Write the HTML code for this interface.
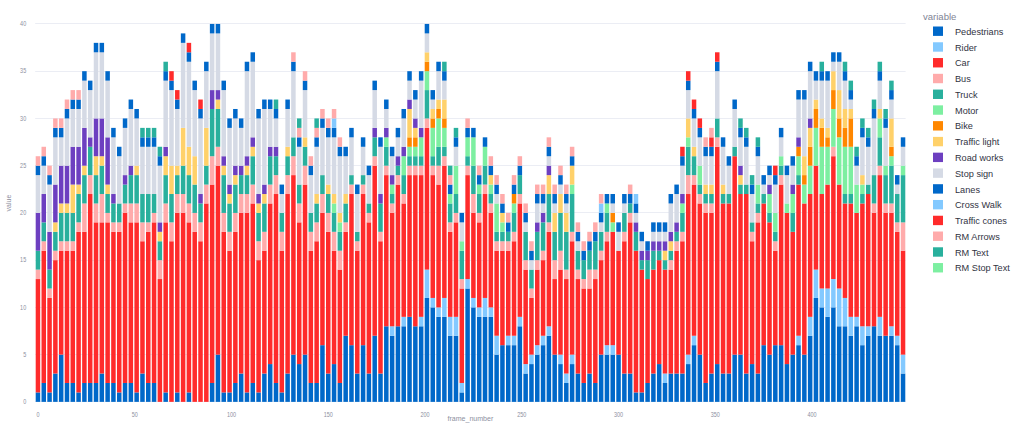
<!DOCTYPE html>
<html><head><meta charset="utf-8"><style>html,body{margin:0;padding:0;background:#fff}svg{display:block}text{font-family:"Liberation Sans",sans-serif}</style></head><body>
<svg width="1024" height="429" viewBox="0 0 1024 429">
<rect width="1024" height="429" fill="#fff"/>
<line x1="35.2" x2="905.6" y1="401.50" y2="401.50" stroke="#ebedf4" stroke-width="1"/>
<text transform="translate(26.2,404.0) scale(0.83,1)" font-size="6.6" fill="#8d90a0" text-anchor="end">0</text>
<line x1="35.2" x2="905.6" y1="354.50" y2="354.50" stroke="#ebedf4" stroke-width="1"/>
<text transform="translate(26.2,356.7) scale(0.83,1)" font-size="6.6" fill="#8d90a0" text-anchor="end">5</text>
<line x1="35.2" x2="905.6" y1="307.50" y2="307.50" stroke="#ebedf4" stroke-width="1"/>
<text transform="translate(26.2,309.5) scale(0.83,1)" font-size="6.6" fill="#8d90a0" text-anchor="end">10</text>
<line x1="35.2" x2="905.6" y1="260.50" y2="260.50" stroke="#ebedf4" stroke-width="1"/>
<text transform="translate(26.2,262.2) scale(0.83,1)" font-size="6.6" fill="#8d90a0" text-anchor="end">15</text>
<line x1="35.2" x2="905.6" y1="212.50" y2="212.50" stroke="#ebedf4" stroke-width="1"/>
<text transform="translate(26.2,215.0) scale(0.83,1)" font-size="6.6" fill="#8d90a0" text-anchor="end">20</text>
<line x1="35.2" x2="905.6" y1="165.50" y2="165.50" stroke="#ebedf4" stroke-width="1"/>
<text transform="translate(26.2,167.8) scale(0.83,1)" font-size="6.6" fill="#8d90a0" text-anchor="end">25</text>
<line x1="35.2" x2="905.6" y1="118.50" y2="118.50" stroke="#ebedf4" stroke-width="1"/>
<text transform="translate(26.2,120.5) scale(0.83,1)" font-size="6.6" fill="#8d90a0" text-anchor="end">30</text>
<line x1="35.2" x2="905.6" y1="71.50" y2="71.50" stroke="#ebedf4" stroke-width="1"/>
<text transform="translate(26.2,73.3) scale(0.83,1)" font-size="6.6" fill="#8d90a0" text-anchor="end">35</text>
<line x1="35.2" x2="905.6" y1="23.50" y2="23.50" stroke="#ebedf4" stroke-width="1"/>
<text transform="translate(26.2,26.0) scale(0.83,1)" font-size="6.6" fill="#8d90a0" text-anchor="end">40</text>
<text transform="translate(38.0,416.8) scale(0.83,1)" font-size="6.6" fill="#8d90a0" text-anchor="middle">0</text>
<text transform="translate(134.7,416.8) scale(0.83,1)" font-size="6.6" fill="#8d90a0" text-anchor="middle">50</text>
<text transform="translate(231.5,416.8) scale(0.83,1)" font-size="6.6" fill="#8d90a0" text-anchor="middle">100</text>
<text transform="translate(328.2,416.8) scale(0.83,1)" font-size="6.6" fill="#8d90a0" text-anchor="middle">150</text>
<text transform="translate(425.0,416.8) scale(0.83,1)" font-size="6.6" fill="#8d90a0" text-anchor="middle">200</text>
<text transform="translate(521.8,416.8) scale(0.83,1)" font-size="6.6" fill="#8d90a0" text-anchor="middle">250</text>
<text transform="translate(618.6,416.8) scale(0.83,1)" font-size="6.6" fill="#8d90a0" text-anchor="middle">300</text>
<text transform="translate(715.3,416.8) scale(0.83,1)" font-size="6.6" fill="#8d90a0" text-anchor="middle">350</text>
<text transform="translate(812.1,416.8) scale(0.83,1)" font-size="6.6" fill="#8d90a0" text-anchor="middle">400</text>
<g shape-rendering="auto">
<rect x="35.70" y="392.42" width="4.5" height="9.45" fill="#0068c9"/>
<rect x="35.70" y="279.05" width="4.5" height="113.38" fill="#ff2b2b"/>
<rect x="35.70" y="269.60" width="4.5" height="9.45" fill="#ffabab"/>
<rect x="35.70" y="250.70" width="4.5" height="18.90" fill="#29b09d"/>
<rect x="35.70" y="212.91" width="4.5" height="37.79" fill="#6d3fc0"/>
<rect x="35.70" y="175.12" width="4.5" height="37.79" fill="#d5dae5"/>
<rect x="35.70" y="165.67" width="4.5" height="9.45" fill="#0068c9"/>
<rect x="35.70" y="156.22" width="4.5" height="9.45" fill="#ffabab"/>
<rect x="41.51" y="382.97" width="4.5" height="18.90" fill="#0068c9"/>
<rect x="41.51" y="250.70" width="4.5" height="132.27" fill="#ff2b2b"/>
<rect x="41.51" y="241.25" width="4.5" height="9.45" fill="#ffabab"/>
<rect x="41.51" y="222.36" width="4.5" height="18.90" fill="#29b09d"/>
<rect x="41.51" y="194.01" width="4.5" height="28.34" fill="#6d3fc0"/>
<rect x="41.51" y="165.67" width="4.5" height="28.34" fill="#d5dae5"/>
<rect x="41.51" y="156.22" width="4.5" height="9.45" fill="#0068c9"/>
<rect x="41.51" y="146.77" width="4.5" height="9.45" fill="#ffabab"/>
<rect x="47.31" y="392.42" width="4.5" height="9.45" fill="#0068c9"/>
<rect x="47.31" y="297.94" width="4.5" height="94.48" fill="#ff2b2b"/>
<rect x="47.31" y="288.49" width="4.5" height="9.45" fill="#ffabab"/>
<rect x="47.31" y="269.60" width="4.5" height="18.90" fill="#29b09d"/>
<rect x="47.31" y="231.81" width="4.5" height="37.79" fill="#6d3fc0"/>
<rect x="47.31" y="184.57" width="4.5" height="47.24" fill="#d5dae5"/>
<rect x="47.31" y="175.12" width="4.5" height="9.45" fill="#0068c9"/>
<rect x="47.31" y="165.67" width="4.5" height="9.45" fill="#ffabab"/>
<rect x="53.12" y="373.53" width="4.5" height="28.34" fill="#0068c9"/>
<rect x="53.12" y="260.15" width="4.5" height="113.38" fill="#ff2b2b"/>
<rect x="53.12" y="250.70" width="4.5" height="9.45" fill="#ffabab"/>
<rect x="53.12" y="231.81" width="4.5" height="18.90" fill="#29b09d"/>
<rect x="53.12" y="222.36" width="4.5" height="9.45" fill="#ffd16a"/>
<rect x="53.12" y="184.57" width="4.5" height="37.79" fill="#6d3fc0"/>
<rect x="53.12" y="137.33" width="4.5" height="47.24" fill="#d5dae5"/>
<rect x="53.12" y="127.88" width="4.5" height="9.45" fill="#0068c9"/>
<rect x="53.12" y="118.43" width="4.5" height="9.45" fill="#ffabab"/>
<rect x="58.92" y="354.63" width="4.5" height="47.24" fill="#0068c9"/>
<rect x="58.92" y="250.70" width="4.5" height="103.93" fill="#ff2b2b"/>
<rect x="58.92" y="241.25" width="4.5" height="9.45" fill="#ffabab"/>
<rect x="58.92" y="212.91" width="4.5" height="28.34" fill="#29b09d"/>
<rect x="58.92" y="203.46" width="4.5" height="9.45" fill="#ffd16a"/>
<rect x="58.92" y="165.67" width="4.5" height="37.79" fill="#6d3fc0"/>
<rect x="58.92" y="137.33" width="4.5" height="28.34" fill="#d5dae5"/>
<rect x="58.92" y="127.88" width="4.5" height="9.45" fill="#0068c9"/>
<rect x="58.92" y="118.43" width="4.5" height="9.45" fill="#ffabab"/>
<rect x="64.73" y="382.97" width="4.5" height="18.90" fill="#0068c9"/>
<rect x="64.73" y="250.70" width="4.5" height="132.27" fill="#ff2b2b"/>
<rect x="64.73" y="241.25" width="4.5" height="9.45" fill="#ffabab"/>
<rect x="64.73" y="212.91" width="4.5" height="28.34" fill="#29b09d"/>
<rect x="64.73" y="203.46" width="4.5" height="9.45" fill="#ffd16a"/>
<rect x="64.73" y="165.67" width="4.5" height="37.79" fill="#6d3fc0"/>
<rect x="64.73" y="118.43" width="4.5" height="47.24" fill="#d5dae5"/>
<rect x="64.73" y="108.98" width="4.5" height="9.45" fill="#0068c9"/>
<rect x="64.73" y="99.53" width="4.5" height="9.45" fill="#ffabab"/>
<rect x="70.54" y="382.97" width="4.5" height="18.90" fill="#0068c9"/>
<rect x="70.54" y="250.70" width="4.5" height="132.27" fill="#ff2b2b"/>
<rect x="70.54" y="241.25" width="4.5" height="9.45" fill="#ffabab"/>
<rect x="70.54" y="212.91" width="4.5" height="28.34" fill="#29b09d"/>
<rect x="70.54" y="184.57" width="4.5" height="28.34" fill="#ffd16a"/>
<rect x="70.54" y="146.77" width="4.5" height="37.79" fill="#6d3fc0"/>
<rect x="70.54" y="108.98" width="4.5" height="37.79" fill="#d5dae5"/>
<rect x="70.54" y="99.53" width="4.5" height="9.45" fill="#0068c9"/>
<rect x="70.54" y="90.09" width="4.5" height="9.45" fill="#ffabab"/>
<rect x="76.34" y="392.42" width="4.5" height="9.45" fill="#0068c9"/>
<rect x="76.34" y="231.81" width="4.5" height="160.62" fill="#ff2b2b"/>
<rect x="76.34" y="222.36" width="4.5" height="9.45" fill="#ffabab"/>
<rect x="76.34" y="194.01" width="4.5" height="28.34" fill="#29b09d"/>
<rect x="76.34" y="184.57" width="4.5" height="9.45" fill="#ffd16a"/>
<rect x="76.34" y="146.77" width="4.5" height="37.79" fill="#6d3fc0"/>
<rect x="76.34" y="108.98" width="4.5" height="37.79" fill="#d5dae5"/>
<rect x="76.34" y="99.53" width="4.5" height="9.45" fill="#0068c9"/>
<rect x="76.34" y="90.09" width="4.5" height="9.45" fill="#ffabab"/>
<rect x="82.15" y="382.97" width="4.5" height="18.90" fill="#0068c9"/>
<rect x="82.15" y="231.81" width="4.5" height="151.17" fill="#ff2b2b"/>
<rect x="82.15" y="203.46" width="4.5" height="28.34" fill="#ffabab"/>
<rect x="82.15" y="175.12" width="4.5" height="28.34" fill="#29b09d"/>
<rect x="82.15" y="165.67" width="4.5" height="9.45" fill="#ffd16a"/>
<rect x="82.15" y="127.88" width="4.5" height="37.79" fill="#6d3fc0"/>
<rect x="82.15" y="80.64" width="4.5" height="47.24" fill="#d5dae5"/>
<rect x="82.15" y="71.19" width="4.5" height="9.45" fill="#0068c9"/>
<rect x="87.95" y="382.97" width="4.5" height="18.90" fill="#0068c9"/>
<rect x="87.95" y="194.01" width="4.5" height="188.96" fill="#ff2b2b"/>
<rect x="87.95" y="175.12" width="4.5" height="18.90" fill="#ffabab"/>
<rect x="87.95" y="146.77" width="4.5" height="28.34" fill="#29b09d"/>
<rect x="87.95" y="137.33" width="4.5" height="9.45" fill="#6d3fc0"/>
<rect x="87.95" y="90.09" width="4.5" height="47.24" fill="#d5dae5"/>
<rect x="87.95" y="80.64" width="4.5" height="9.45" fill="#0068c9"/>
<rect x="93.76" y="382.97" width="4.5" height="18.90" fill="#0068c9"/>
<rect x="93.76" y="222.36" width="4.5" height="160.62" fill="#ff2b2b"/>
<rect x="93.76" y="203.46" width="4.5" height="18.90" fill="#ffabab"/>
<rect x="93.76" y="175.12" width="4.5" height="28.34" fill="#29b09d"/>
<rect x="93.76" y="156.22" width="4.5" height="18.90" fill="#ffd16a"/>
<rect x="93.76" y="118.43" width="4.5" height="37.79" fill="#6d3fc0"/>
<rect x="93.76" y="52.29" width="4.5" height="66.14" fill="#d5dae5"/>
<rect x="93.76" y="42.85" width="4.5" height="9.45" fill="#0068c9"/>
<rect x="99.57" y="373.53" width="4.5" height="28.34" fill="#0068c9"/>
<rect x="99.57" y="222.36" width="4.5" height="151.17" fill="#ff2b2b"/>
<rect x="99.57" y="194.01" width="4.5" height="28.34" fill="#ffabab"/>
<rect x="99.57" y="165.67" width="4.5" height="28.34" fill="#29b09d"/>
<rect x="99.57" y="156.22" width="4.5" height="9.45" fill="#ffd16a"/>
<rect x="99.57" y="118.43" width="4.5" height="37.79" fill="#6d3fc0"/>
<rect x="99.57" y="52.29" width="4.5" height="66.14" fill="#d5dae5"/>
<rect x="99.57" y="42.85" width="4.5" height="9.45" fill="#0068c9"/>
<rect x="105.37" y="382.97" width="4.5" height="18.90" fill="#0068c9"/>
<rect x="105.37" y="222.36" width="4.5" height="160.62" fill="#ff2b2b"/>
<rect x="105.37" y="212.91" width="4.5" height="9.45" fill="#ffabab"/>
<rect x="105.37" y="194.01" width="4.5" height="18.90" fill="#29b09d"/>
<rect x="105.37" y="184.57" width="4.5" height="9.45" fill="#ffd16a"/>
<rect x="105.37" y="137.33" width="4.5" height="47.24" fill="#6d3fc0"/>
<rect x="105.37" y="80.64" width="4.5" height="56.69" fill="#d5dae5"/>
<rect x="105.37" y="71.19" width="4.5" height="9.45" fill="#0068c9"/>
<rect x="111.18" y="382.97" width="4.5" height="18.90" fill="#0068c9"/>
<rect x="111.18" y="231.81" width="4.5" height="151.17" fill="#ff2b2b"/>
<rect x="111.18" y="222.36" width="4.5" height="9.45" fill="#ffabab"/>
<rect x="111.18" y="203.46" width="4.5" height="18.90" fill="#29b09d"/>
<rect x="111.18" y="194.01" width="4.5" height="9.45" fill="#6d3fc0"/>
<rect x="111.18" y="137.33" width="4.5" height="56.69" fill="#d5dae5"/>
<rect x="111.18" y="127.88" width="4.5" height="9.45" fill="#0068c9"/>
<rect x="116.98" y="392.42" width="4.5" height="9.45" fill="#0068c9"/>
<rect x="116.98" y="231.81" width="4.5" height="160.62" fill="#ff2b2b"/>
<rect x="116.98" y="222.36" width="4.5" height="9.45" fill="#ffabab"/>
<rect x="116.98" y="203.46" width="4.5" height="18.90" fill="#29b09d"/>
<rect x="116.98" y="156.22" width="4.5" height="47.24" fill="#d5dae5"/>
<rect x="116.98" y="146.77" width="4.5" height="9.45" fill="#0068c9"/>
<rect x="122.79" y="382.97" width="4.5" height="18.90" fill="#0068c9"/>
<rect x="122.79" y="212.91" width="4.5" height="170.06" fill="#ff2b2b"/>
<rect x="122.79" y="203.46" width="4.5" height="9.45" fill="#ffabab"/>
<rect x="122.79" y="184.57" width="4.5" height="18.90" fill="#29b09d"/>
<rect x="122.79" y="175.12" width="4.5" height="9.45" fill="#6d3fc0"/>
<rect x="122.79" y="127.88" width="4.5" height="47.24" fill="#d5dae5"/>
<rect x="122.79" y="118.43" width="4.5" height="9.45" fill="#0068c9"/>
<rect x="128.60" y="382.97" width="4.5" height="18.90" fill="#0068c9"/>
<rect x="128.60" y="222.36" width="4.5" height="160.62" fill="#ff2b2b"/>
<rect x="128.60" y="203.46" width="4.5" height="18.90" fill="#ffabab"/>
<rect x="128.60" y="175.12" width="4.5" height="28.34" fill="#29b09d"/>
<rect x="128.60" y="165.67" width="4.5" height="9.45" fill="#6d3fc0"/>
<rect x="128.60" y="108.98" width="4.5" height="56.69" fill="#d5dae5"/>
<rect x="128.60" y="99.53" width="4.5" height="9.45" fill="#0068c9"/>
<rect x="134.40" y="392.42" width="4.5" height="9.45" fill="#0068c9"/>
<rect x="134.40" y="222.36" width="4.5" height="170.06" fill="#ff2b2b"/>
<rect x="134.40" y="203.46" width="4.5" height="18.90" fill="#ffabab"/>
<rect x="134.40" y="175.12" width="4.5" height="28.34" fill="#29b09d"/>
<rect x="134.40" y="165.67" width="4.5" height="9.45" fill="#ffd16a"/>
<rect x="134.40" y="118.43" width="4.5" height="47.24" fill="#d5dae5"/>
<rect x="134.40" y="108.98" width="4.5" height="9.45" fill="#0068c9"/>
<rect x="140.21" y="373.53" width="4.5" height="28.34" fill="#0068c9"/>
<rect x="140.21" y="241.25" width="4.5" height="132.27" fill="#ff2b2b"/>
<rect x="140.21" y="222.36" width="4.5" height="18.90" fill="#ffabab"/>
<rect x="140.21" y="194.01" width="4.5" height="28.34" fill="#29b09d"/>
<rect x="140.21" y="146.77" width="4.5" height="47.24" fill="#d5dae5"/>
<rect x="140.21" y="137.33" width="4.5" height="9.45" fill="#0068c9"/>
<rect x="140.21" y="127.88" width="4.5" height="9.45" fill="#29b09d"/>
<rect x="146.01" y="382.97" width="4.5" height="18.90" fill="#0068c9"/>
<rect x="146.01" y="231.81" width="4.5" height="151.17" fill="#ff2b2b"/>
<rect x="146.01" y="222.36" width="4.5" height="9.45" fill="#ffabab"/>
<rect x="146.01" y="194.01" width="4.5" height="28.34" fill="#29b09d"/>
<rect x="146.01" y="146.77" width="4.5" height="47.24" fill="#d5dae5"/>
<rect x="146.01" y="137.33" width="4.5" height="9.45" fill="#0068c9"/>
<rect x="146.01" y="127.88" width="4.5" height="9.45" fill="#29b09d"/>
<rect x="151.82" y="382.97" width="4.5" height="18.90" fill="#0068c9"/>
<rect x="151.82" y="222.36" width="4.5" height="160.62" fill="#ff2b2b"/>
<rect x="151.82" y="212.91" width="4.5" height="9.45" fill="#ffabab"/>
<rect x="151.82" y="194.01" width="4.5" height="18.90" fill="#29b09d"/>
<rect x="151.82" y="146.77" width="4.5" height="47.24" fill="#d5dae5"/>
<rect x="151.82" y="137.33" width="4.5" height="9.45" fill="#0068c9"/>
<rect x="151.82" y="127.88" width="4.5" height="9.45" fill="#29b09d"/>
<rect x="157.63" y="279.05" width="4.5" height="122.82" fill="#ff2b2b"/>
<rect x="157.63" y="260.15" width="4.5" height="18.90" fill="#ffabab"/>
<rect x="157.63" y="241.25" width="4.5" height="18.90" fill="#29b09d"/>
<rect x="157.63" y="231.81" width="4.5" height="9.45" fill="#ffd16a"/>
<rect x="157.63" y="222.36" width="4.5" height="9.45" fill="#6d3fc0"/>
<rect x="157.63" y="165.67" width="4.5" height="56.69" fill="#d5dae5"/>
<rect x="157.63" y="156.22" width="4.5" height="9.45" fill="#0068c9"/>
<rect x="157.63" y="146.77" width="4.5" height="9.45" fill="#29b09d"/>
<rect x="163.43" y="392.42" width="4.5" height="9.45" fill="#0068c9"/>
<rect x="163.43" y="222.36" width="4.5" height="170.06" fill="#ff2b2b"/>
<rect x="163.43" y="203.46" width="4.5" height="18.90" fill="#ffabab"/>
<rect x="163.43" y="175.12" width="4.5" height="28.34" fill="#29b09d"/>
<rect x="163.43" y="156.22" width="4.5" height="18.90" fill="#ffd16a"/>
<rect x="163.43" y="146.77" width="4.5" height="9.45" fill="#6d3fc0"/>
<rect x="163.43" y="80.64" width="4.5" height="66.14" fill="#d5dae5"/>
<rect x="163.43" y="71.19" width="4.5" height="9.45" fill="#0068c9"/>
<rect x="163.43" y="61.74" width="4.5" height="9.45" fill="#29b09d"/>
<rect x="169.24" y="241.25" width="4.5" height="160.62" fill="#ff2b2b"/>
<rect x="169.24" y="222.36" width="4.5" height="18.90" fill="#ffabab"/>
<rect x="169.24" y="194.01" width="4.5" height="28.34" fill="#29b09d"/>
<rect x="169.24" y="165.67" width="4.5" height="28.34" fill="#ffd16a"/>
<rect x="169.24" y="90.09" width="4.5" height="75.58" fill="#d5dae5"/>
<rect x="169.24" y="80.64" width="4.5" height="9.45" fill="#0068c9"/>
<rect x="169.24" y="71.19" width="4.5" height="9.45" fill="#ff2b2b"/>
<rect x="175.04" y="392.42" width="4.5" height="9.45" fill="#0068c9"/>
<rect x="175.04" y="212.91" width="4.5" height="179.51" fill="#ff2b2b"/>
<rect x="175.04" y="194.01" width="4.5" height="18.90" fill="#ffabab"/>
<rect x="175.04" y="175.12" width="4.5" height="18.90" fill="#29b09d"/>
<rect x="175.04" y="165.67" width="4.5" height="9.45" fill="#ffd16a"/>
<rect x="175.04" y="108.98" width="4.5" height="56.69" fill="#d5dae5"/>
<rect x="175.04" y="99.53" width="4.5" height="9.45" fill="#0068c9"/>
<rect x="175.04" y="90.09" width="4.5" height="9.45" fill="#ff2b2b"/>
<rect x="180.85" y="212.91" width="4.5" height="188.96" fill="#ff2b2b"/>
<rect x="180.85" y="194.01" width="4.5" height="18.90" fill="#ffabab"/>
<rect x="180.85" y="165.67" width="4.5" height="28.34" fill="#29b09d"/>
<rect x="180.85" y="127.88" width="4.5" height="37.79" fill="#ffd16a"/>
<rect x="180.85" y="42.85" width="4.5" height="85.03" fill="#d5dae5"/>
<rect x="180.85" y="33.40" width="4.5" height="9.45" fill="#0068c9"/>
<rect x="186.66" y="392.42" width="4.5" height="9.45" fill="#0068c9"/>
<rect x="186.66" y="222.36" width="4.5" height="170.06" fill="#ff2b2b"/>
<rect x="186.66" y="203.46" width="4.5" height="18.90" fill="#ffabab"/>
<rect x="186.66" y="175.12" width="4.5" height="28.34" fill="#29b09d"/>
<rect x="186.66" y="146.77" width="4.5" height="28.34" fill="#ffd16a"/>
<rect x="186.66" y="61.74" width="4.5" height="85.03" fill="#d5dae5"/>
<rect x="186.66" y="52.29" width="4.5" height="9.45" fill="#0068c9"/>
<rect x="186.66" y="42.85" width="4.5" height="9.45" fill="#ff2b2b"/>
<rect x="192.46" y="231.81" width="4.5" height="170.06" fill="#ff2b2b"/>
<rect x="192.46" y="212.91" width="4.5" height="18.90" fill="#ffabab"/>
<rect x="192.46" y="184.57" width="4.5" height="28.34" fill="#29b09d"/>
<rect x="192.46" y="156.22" width="4.5" height="28.34" fill="#ffd16a"/>
<rect x="192.46" y="90.09" width="4.5" height="66.14" fill="#d5dae5"/>
<rect x="192.46" y="80.64" width="4.5" height="9.45" fill="#0068c9"/>
<rect x="198.27" y="241.25" width="4.5" height="160.62" fill="#ff2b2b"/>
<rect x="198.27" y="222.36" width="4.5" height="18.90" fill="#ffabab"/>
<rect x="198.27" y="203.46" width="4.5" height="18.90" fill="#29b09d"/>
<rect x="198.27" y="194.01" width="4.5" height="9.45" fill="#6d3fc0"/>
<rect x="198.27" y="118.43" width="4.5" height="75.58" fill="#d5dae5"/>
<rect x="198.27" y="108.98" width="4.5" height="9.45" fill="#0068c9"/>
<rect x="198.27" y="99.53" width="4.5" height="9.45" fill="#ff2b2b"/>
<rect x="204.07" y="203.46" width="4.5" height="198.41" fill="#ff2b2b"/>
<rect x="204.07" y="184.57" width="4.5" height="18.90" fill="#ffabab"/>
<rect x="204.07" y="165.67" width="4.5" height="18.90" fill="#29b09d"/>
<rect x="204.07" y="127.88" width="4.5" height="37.79" fill="#ffd16a"/>
<rect x="204.07" y="71.19" width="4.5" height="56.69" fill="#d5dae5"/>
<rect x="204.07" y="61.74" width="4.5" height="9.45" fill="#0068c9"/>
<rect x="209.88" y="382.97" width="4.5" height="18.90" fill="#0068c9"/>
<rect x="209.88" y="184.57" width="4.5" height="198.41" fill="#ff2b2b"/>
<rect x="209.88" y="156.22" width="4.5" height="28.34" fill="#ffabab"/>
<rect x="209.88" y="108.98" width="4.5" height="47.24" fill="#29b09d"/>
<rect x="209.88" y="90.09" width="4.5" height="18.90" fill="#6d3fc0"/>
<rect x="209.88" y="33.40" width="4.5" height="56.69" fill="#d5dae5"/>
<rect x="209.88" y="23.95" width="4.5" height="9.45" fill="#0068c9"/>
<rect x="215.69" y="354.63" width="4.5" height="47.24" fill="#0068c9"/>
<rect x="215.69" y="165.67" width="4.5" height="188.96" fill="#ff2b2b"/>
<rect x="215.69" y="146.77" width="4.5" height="18.90" fill="#ffabab"/>
<rect x="215.69" y="108.98" width="4.5" height="37.79" fill="#29b09d"/>
<rect x="215.69" y="99.53" width="4.5" height="9.45" fill="#ffd16a"/>
<rect x="215.69" y="90.09" width="4.5" height="9.45" fill="#6d3fc0"/>
<rect x="215.69" y="33.40" width="4.5" height="56.69" fill="#d5dae5"/>
<rect x="215.69" y="23.95" width="4.5" height="9.45" fill="#0068c9"/>
<rect x="221.49" y="392.42" width="4.5" height="9.45" fill="#0068c9"/>
<rect x="221.49" y="231.81" width="4.5" height="160.62" fill="#ff2b2b"/>
<rect x="221.49" y="212.91" width="4.5" height="18.90" fill="#ffabab"/>
<rect x="221.49" y="175.12" width="4.5" height="37.79" fill="#29b09d"/>
<rect x="221.49" y="165.67" width="4.5" height="9.45" fill="#ffd16a"/>
<rect x="221.49" y="156.22" width="4.5" height="9.45" fill="#6d3fc0"/>
<rect x="221.49" y="90.09" width="4.5" height="66.14" fill="#d5dae5"/>
<rect x="221.49" y="80.64" width="4.5" height="9.45" fill="#0068c9"/>
<rect x="227.30" y="392.42" width="4.5" height="9.45" fill="#0068c9"/>
<rect x="227.30" y="250.70" width="4.5" height="141.72" fill="#ff2b2b"/>
<rect x="227.30" y="231.81" width="4.5" height="18.90" fill="#ffabab"/>
<rect x="227.30" y="203.46" width="4.5" height="28.34" fill="#29b09d"/>
<rect x="227.30" y="194.01" width="4.5" height="9.45" fill="#ffd16a"/>
<rect x="227.30" y="184.57" width="4.5" height="9.45" fill="#6d3fc0"/>
<rect x="227.30" y="127.88" width="4.5" height="56.69" fill="#d5dae5"/>
<rect x="227.30" y="118.43" width="4.5" height="9.45" fill="#0068c9"/>
<rect x="233.10" y="382.97" width="4.5" height="18.90" fill="#0068c9"/>
<rect x="233.10" y="231.81" width="4.5" height="151.17" fill="#ff2b2b"/>
<rect x="233.10" y="212.91" width="4.5" height="18.90" fill="#ffabab"/>
<rect x="233.10" y="184.57" width="4.5" height="28.34" fill="#29b09d"/>
<rect x="233.10" y="175.12" width="4.5" height="9.45" fill="#ffd16a"/>
<rect x="233.10" y="165.67" width="4.5" height="9.45" fill="#6d3fc0"/>
<rect x="233.10" y="118.43" width="4.5" height="47.24" fill="#d5dae5"/>
<rect x="233.10" y="108.98" width="4.5" height="9.45" fill="#0068c9"/>
<rect x="238.91" y="373.53" width="4.5" height="28.34" fill="#0068c9"/>
<rect x="238.91" y="212.91" width="4.5" height="160.62" fill="#ff2b2b"/>
<rect x="238.91" y="194.01" width="4.5" height="18.90" fill="#ffabab"/>
<rect x="238.91" y="175.12" width="4.5" height="18.90" fill="#29b09d"/>
<rect x="238.91" y="165.67" width="4.5" height="9.45" fill="#6d3fc0"/>
<rect x="238.91" y="127.88" width="4.5" height="37.79" fill="#d5dae5"/>
<rect x="238.91" y="118.43" width="4.5" height="9.45" fill="#0068c9"/>
<rect x="244.72" y="392.42" width="4.5" height="9.45" fill="#0068c9"/>
<rect x="244.72" y="212.91" width="4.5" height="179.51" fill="#ff2b2b"/>
<rect x="244.72" y="194.01" width="4.5" height="18.90" fill="#ffabab"/>
<rect x="244.72" y="175.12" width="4.5" height="18.90" fill="#29b09d"/>
<rect x="244.72" y="165.67" width="4.5" height="9.45" fill="#ffd16a"/>
<rect x="244.72" y="156.22" width="4.5" height="9.45" fill="#6d3fc0"/>
<rect x="244.72" y="71.19" width="4.5" height="85.03" fill="#d5dae5"/>
<rect x="244.72" y="61.74" width="4.5" height="9.45" fill="#0068c9"/>
<rect x="250.52" y="382.97" width="4.5" height="18.90" fill="#0068c9"/>
<rect x="250.52" y="203.46" width="4.5" height="179.51" fill="#ff2b2b"/>
<rect x="250.52" y="184.57" width="4.5" height="18.90" fill="#ffabab"/>
<rect x="250.52" y="156.22" width="4.5" height="28.34" fill="#29b09d"/>
<rect x="250.52" y="146.77" width="4.5" height="9.45" fill="#ffd16a"/>
<rect x="250.52" y="137.33" width="4.5" height="9.45" fill="#6d3fc0"/>
<rect x="250.52" y="61.74" width="4.5" height="75.58" fill="#d5dae5"/>
<rect x="250.52" y="52.29" width="4.5" height="9.45" fill="#0068c9"/>
<rect x="256.33" y="392.42" width="4.5" height="9.45" fill="#0068c9"/>
<rect x="256.33" y="260.15" width="4.5" height="132.27" fill="#ff2b2b"/>
<rect x="256.33" y="241.25" width="4.5" height="18.90" fill="#ffabab"/>
<rect x="256.33" y="212.91" width="4.5" height="28.34" fill="#29b09d"/>
<rect x="256.33" y="203.46" width="4.5" height="9.45" fill="#ffd16a"/>
<rect x="256.33" y="194.01" width="4.5" height="9.45" fill="#6d3fc0"/>
<rect x="256.33" y="118.43" width="4.5" height="75.58" fill="#d5dae5"/>
<rect x="256.33" y="108.98" width="4.5" height="9.45" fill="#0068c9"/>
<rect x="262.13" y="373.53" width="4.5" height="28.34" fill="#0068c9"/>
<rect x="262.13" y="250.70" width="4.5" height="122.82" fill="#ff2b2b"/>
<rect x="262.13" y="231.81" width="4.5" height="18.90" fill="#ffabab"/>
<rect x="262.13" y="203.46" width="4.5" height="28.34" fill="#29b09d"/>
<rect x="262.13" y="194.01" width="4.5" height="9.45" fill="#ffd16a"/>
<rect x="262.13" y="184.57" width="4.5" height="9.45" fill="#6d3fc0"/>
<rect x="262.13" y="108.98" width="4.5" height="75.58" fill="#d5dae5"/>
<rect x="262.13" y="99.53" width="4.5" height="9.45" fill="#0068c9"/>
<rect x="267.94" y="364.08" width="4.5" height="37.79" fill="#0068c9"/>
<rect x="267.94" y="203.46" width="4.5" height="160.62" fill="#ff2b2b"/>
<rect x="267.94" y="184.57" width="4.5" height="18.90" fill="#ffabab"/>
<rect x="267.94" y="156.22" width="4.5" height="28.34" fill="#29b09d"/>
<rect x="267.94" y="146.77" width="4.5" height="9.45" fill="#6d3fc0"/>
<rect x="267.94" y="108.98" width="4.5" height="37.79" fill="#d5dae5"/>
<rect x="267.94" y="99.53" width="4.5" height="9.45" fill="#0068c9"/>
<rect x="273.75" y="382.97" width="4.5" height="18.90" fill="#0068c9"/>
<rect x="273.75" y="194.01" width="4.5" height="188.96" fill="#ff2b2b"/>
<rect x="273.75" y="175.12" width="4.5" height="18.90" fill="#ffabab"/>
<rect x="273.75" y="156.22" width="4.5" height="18.90" fill="#29b09d"/>
<rect x="273.75" y="146.77" width="4.5" height="9.45" fill="#6d3fc0"/>
<rect x="273.75" y="118.43" width="4.5" height="28.34" fill="#d5dae5"/>
<rect x="273.75" y="108.98" width="4.5" height="9.45" fill="#0068c9"/>
<rect x="273.75" y="99.53" width="4.5" height="9.45" fill="#29b09d"/>
<rect x="279.55" y="392.42" width="4.5" height="9.45" fill="#0068c9"/>
<rect x="279.55" y="250.70" width="4.5" height="141.72" fill="#ff2b2b"/>
<rect x="279.55" y="231.81" width="4.5" height="18.90" fill="#ffabab"/>
<rect x="279.55" y="212.91" width="4.5" height="18.90" fill="#29b09d"/>
<rect x="279.55" y="194.01" width="4.5" height="18.90" fill="#d5dae5"/>
<rect x="279.55" y="184.57" width="4.5" height="9.45" fill="#0068c9"/>
<rect x="285.36" y="373.53" width="4.5" height="28.34" fill="#0068c9"/>
<rect x="285.36" y="194.01" width="4.5" height="179.51" fill="#ff2b2b"/>
<rect x="285.36" y="175.12" width="4.5" height="18.90" fill="#ffabab"/>
<rect x="285.36" y="156.22" width="4.5" height="18.90" fill="#29b09d"/>
<rect x="285.36" y="146.77" width="4.5" height="9.45" fill="#ffd16a"/>
<rect x="285.36" y="108.98" width="4.5" height="37.79" fill="#d5dae5"/>
<rect x="285.36" y="99.53" width="4.5" height="9.45" fill="#0068c9"/>
<rect x="291.16" y="354.63" width="4.5" height="47.24" fill="#0068c9"/>
<rect x="291.16" y="175.12" width="4.5" height="179.51" fill="#ff2b2b"/>
<rect x="291.16" y="156.22" width="4.5" height="18.90" fill="#ffabab"/>
<rect x="291.16" y="137.33" width="4.5" height="18.90" fill="#29b09d"/>
<rect x="291.16" y="71.19" width="4.5" height="66.14" fill="#d5dae5"/>
<rect x="291.16" y="61.74" width="4.5" height="9.45" fill="#0068c9"/>
<rect x="291.16" y="52.29" width="4.5" height="9.45" fill="#ffabab"/>
<rect x="296.97" y="364.08" width="4.5" height="37.79" fill="#0068c9"/>
<rect x="296.97" y="222.36" width="4.5" height="141.72" fill="#ff2b2b"/>
<rect x="296.97" y="203.46" width="4.5" height="18.90" fill="#ffabab"/>
<rect x="296.97" y="184.57" width="4.5" height="18.90" fill="#29b09d"/>
<rect x="296.97" y="146.77" width="4.5" height="37.79" fill="#d5dae5"/>
<rect x="296.97" y="137.33" width="4.5" height="9.45" fill="#0068c9"/>
<rect x="296.97" y="127.88" width="4.5" height="9.45" fill="#ffabab"/>
<rect x="296.97" y="118.43" width="4.5" height="9.45" fill="#29b09d"/>
<rect x="302.78" y="354.63" width="4.5" height="47.24" fill="#0068c9"/>
<rect x="302.78" y="184.57" width="4.5" height="170.06" fill="#ff2b2b"/>
<rect x="302.78" y="165.67" width="4.5" height="18.90" fill="#ffabab"/>
<rect x="302.78" y="146.77" width="4.5" height="18.90" fill="#29b09d"/>
<rect x="302.78" y="137.33" width="4.5" height="9.45" fill="#ffd16a"/>
<rect x="302.78" y="90.09" width="4.5" height="47.24" fill="#d5dae5"/>
<rect x="302.78" y="80.64" width="4.5" height="9.45" fill="#0068c9"/>
<rect x="302.78" y="71.19" width="4.5" height="9.45" fill="#ffabab"/>
<rect x="308.58" y="382.97" width="4.5" height="18.90" fill="#0068c9"/>
<rect x="308.58" y="250.70" width="4.5" height="132.27" fill="#ff2b2b"/>
<rect x="308.58" y="231.81" width="4.5" height="18.90" fill="#ffabab"/>
<rect x="308.58" y="212.91" width="4.5" height="18.90" fill="#29b09d"/>
<rect x="308.58" y="175.12" width="4.5" height="37.79" fill="#d5dae5"/>
<rect x="308.58" y="165.67" width="4.5" height="9.45" fill="#0068c9"/>
<rect x="308.58" y="156.22" width="4.5" height="9.45" fill="#ffabab"/>
<rect x="314.39" y="382.97" width="4.5" height="18.90" fill="#0068c9"/>
<rect x="314.39" y="241.25" width="4.5" height="141.72" fill="#ff2b2b"/>
<rect x="314.39" y="222.36" width="4.5" height="18.90" fill="#ffabab"/>
<rect x="314.39" y="203.46" width="4.5" height="18.90" fill="#29b09d"/>
<rect x="314.39" y="194.01" width="4.5" height="9.45" fill="#ffd16a"/>
<rect x="314.39" y="146.77" width="4.5" height="47.24" fill="#d5dae5"/>
<rect x="314.39" y="137.33" width="4.5" height="9.45" fill="#0068c9"/>
<rect x="314.39" y="127.88" width="4.5" height="9.45" fill="#ffabab"/>
<rect x="314.39" y="118.43" width="4.5" height="9.45" fill="#29b09d"/>
<rect x="320.19" y="345.18" width="4.5" height="56.69" fill="#0068c9"/>
<rect x="320.19" y="212.91" width="4.5" height="132.27" fill="#ff2b2b"/>
<rect x="320.19" y="194.01" width="4.5" height="18.90" fill="#ffabab"/>
<rect x="320.19" y="175.12" width="4.5" height="18.90" fill="#29b09d"/>
<rect x="320.19" y="127.88" width="4.5" height="47.24" fill="#d5dae5"/>
<rect x="320.19" y="118.43" width="4.5" height="9.45" fill="#0068c9"/>
<rect x="320.19" y="108.98" width="4.5" height="9.45" fill="#ffabab"/>
<rect x="326.00" y="373.53" width="4.5" height="28.34" fill="#0068c9"/>
<rect x="326.00" y="231.81" width="4.5" height="141.72" fill="#ff2b2b"/>
<rect x="326.00" y="212.91" width="4.5" height="18.90" fill="#ffabab"/>
<rect x="326.00" y="194.01" width="4.5" height="18.90" fill="#29b09d"/>
<rect x="326.00" y="184.57" width="4.5" height="9.45" fill="#ffd16a"/>
<rect x="326.00" y="137.33" width="4.5" height="47.24" fill="#d5dae5"/>
<rect x="326.00" y="127.88" width="4.5" height="9.45" fill="#0068c9"/>
<rect x="326.00" y="118.43" width="4.5" height="9.45" fill="#ffabab"/>
<rect x="331.81" y="364.08" width="4.5" height="37.79" fill="#0068c9"/>
<rect x="331.81" y="250.70" width="4.5" height="113.38" fill="#ff2b2b"/>
<rect x="331.81" y="231.81" width="4.5" height="18.90" fill="#ffabab"/>
<rect x="331.81" y="212.91" width="4.5" height="18.90" fill="#29b09d"/>
<rect x="331.81" y="203.46" width="4.5" height="9.45" fill="#7defa1"/>
<rect x="331.81" y="194.01" width="4.5" height="9.45" fill="#ffd16a"/>
<rect x="331.81" y="137.33" width="4.5" height="56.69" fill="#d5dae5"/>
<rect x="331.81" y="127.88" width="4.5" height="9.45" fill="#0068c9"/>
<rect x="331.81" y="118.43" width="4.5" height="9.45" fill="#83c9ff"/>
<rect x="331.81" y="108.98" width="4.5" height="9.45" fill="#ffabab"/>
<rect x="337.61" y="382.97" width="4.5" height="18.90" fill="#0068c9"/>
<rect x="337.61" y="269.60" width="4.5" height="113.38" fill="#ff2b2b"/>
<rect x="337.61" y="250.70" width="4.5" height="18.90" fill="#ffabab"/>
<rect x="337.61" y="231.81" width="4.5" height="18.90" fill="#29b09d"/>
<rect x="337.61" y="222.36" width="4.5" height="9.45" fill="#7defa1"/>
<rect x="337.61" y="212.91" width="4.5" height="9.45" fill="#ffd16a"/>
<rect x="337.61" y="156.22" width="4.5" height="56.69" fill="#d5dae5"/>
<rect x="337.61" y="146.77" width="4.5" height="9.45" fill="#0068c9"/>
<rect x="337.61" y="137.33" width="4.5" height="9.45" fill="#ffabab"/>
<rect x="343.42" y="335.73" width="4.5" height="66.14" fill="#0068c9"/>
<rect x="343.42" y="231.81" width="4.5" height="103.93" fill="#ff2b2b"/>
<rect x="343.42" y="222.36" width="4.5" height="9.45" fill="#ffabab"/>
<rect x="343.42" y="203.46" width="4.5" height="18.90" fill="#29b09d"/>
<rect x="343.42" y="194.01" width="4.5" height="9.45" fill="#ffd16a"/>
<rect x="343.42" y="156.22" width="4.5" height="37.79" fill="#d5dae5"/>
<rect x="343.42" y="146.77" width="4.5" height="9.45" fill="#0068c9"/>
<rect x="349.22" y="345.18" width="4.5" height="56.69" fill="#0068c9"/>
<rect x="349.22" y="194.01" width="4.5" height="151.17" fill="#ff2b2b"/>
<rect x="349.22" y="184.57" width="4.5" height="9.45" fill="#ffabab"/>
<rect x="349.22" y="175.12" width="4.5" height="9.45" fill="#29b09d"/>
<rect x="349.22" y="137.33" width="4.5" height="37.79" fill="#d5dae5"/>
<rect x="349.22" y="127.88" width="4.5" height="9.45" fill="#0068c9"/>
<rect x="355.03" y="373.53" width="4.5" height="28.34" fill="#0068c9"/>
<rect x="355.03" y="250.70" width="4.5" height="122.82" fill="#ff2b2b"/>
<rect x="355.03" y="241.25" width="4.5" height="9.45" fill="#ffabab"/>
<rect x="355.03" y="231.81" width="4.5" height="9.45" fill="#29b09d"/>
<rect x="355.03" y="194.01" width="4.5" height="37.79" fill="#d5dae5"/>
<rect x="355.03" y="184.57" width="4.5" height="9.45" fill="#0068c9"/>
<rect x="360.84" y="345.18" width="4.5" height="56.69" fill="#0068c9"/>
<rect x="360.84" y="194.01" width="4.5" height="151.17" fill="#ff2b2b"/>
<rect x="360.84" y="184.57" width="4.5" height="9.45" fill="#ffabab"/>
<rect x="360.84" y="175.12" width="4.5" height="9.45" fill="#29b09d"/>
<rect x="360.84" y="146.77" width="4.5" height="28.34" fill="#d5dae5"/>
<rect x="360.84" y="137.33" width="4.5" height="9.45" fill="#0068c9"/>
<rect x="366.64" y="373.53" width="4.5" height="28.34" fill="#0068c9"/>
<rect x="366.64" y="222.36" width="4.5" height="151.17" fill="#ff2b2b"/>
<rect x="366.64" y="212.91" width="4.5" height="9.45" fill="#ffabab"/>
<rect x="366.64" y="203.46" width="4.5" height="9.45" fill="#29b09d"/>
<rect x="366.64" y="175.12" width="4.5" height="28.34" fill="#d5dae5"/>
<rect x="366.64" y="165.67" width="4.5" height="9.45" fill="#0068c9"/>
<rect x="372.45" y="335.73" width="4.5" height="66.14" fill="#0068c9"/>
<rect x="372.45" y="165.67" width="4.5" height="170.06" fill="#ff2b2b"/>
<rect x="372.45" y="156.22" width="4.5" height="9.45" fill="#ffabab"/>
<rect x="372.45" y="137.33" width="4.5" height="18.90" fill="#29b09d"/>
<rect x="372.45" y="127.88" width="4.5" height="9.45" fill="#6d3fc0"/>
<rect x="372.45" y="90.09" width="4.5" height="37.79" fill="#d5dae5"/>
<rect x="372.45" y="80.64" width="4.5" height="9.45" fill="#0068c9"/>
<rect x="378.25" y="373.53" width="4.5" height="28.34" fill="#0068c9"/>
<rect x="378.25" y="241.25" width="4.5" height="132.27" fill="#ff2b2b"/>
<rect x="378.25" y="231.81" width="4.5" height="9.45" fill="#ffabab"/>
<rect x="378.25" y="203.46" width="4.5" height="28.34" fill="#29b09d"/>
<rect x="378.25" y="194.01" width="4.5" height="9.45" fill="#6d3fc0"/>
<rect x="378.25" y="146.77" width="4.5" height="47.24" fill="#d5dae5"/>
<rect x="378.25" y="137.33" width="4.5" height="9.45" fill="#0068c9"/>
<rect x="384.06" y="326.29" width="4.5" height="75.58" fill="#0068c9"/>
<rect x="384.06" y="175.12" width="4.5" height="151.17" fill="#ff2b2b"/>
<rect x="384.06" y="165.67" width="4.5" height="9.45" fill="#ffabab"/>
<rect x="384.06" y="146.77" width="4.5" height="18.90" fill="#29b09d"/>
<rect x="384.06" y="137.33" width="4.5" height="9.45" fill="#7defa1"/>
<rect x="384.06" y="127.88" width="4.5" height="9.45" fill="#6d3fc0"/>
<rect x="384.06" y="108.98" width="4.5" height="18.90" fill="#d5dae5"/>
<rect x="384.06" y="99.53" width="4.5" height="9.45" fill="#0068c9"/>
<rect x="389.87" y="335.73" width="4.5" height="66.14" fill="#0068c9"/>
<rect x="389.87" y="326.29" width="4.5" height="9.45" fill="#83c9ff"/>
<rect x="389.87" y="212.91" width="4.5" height="113.38" fill="#ff2b2b"/>
<rect x="389.87" y="203.46" width="4.5" height="9.45" fill="#ffabab"/>
<rect x="389.87" y="194.01" width="4.5" height="9.45" fill="#29b09d"/>
<rect x="389.87" y="184.57" width="4.5" height="9.45" fill="#7defa1"/>
<rect x="389.87" y="175.12" width="4.5" height="9.45" fill="#6d3fc0"/>
<rect x="389.87" y="156.22" width="4.5" height="18.90" fill="#d5dae5"/>
<rect x="389.87" y="146.77" width="4.5" height="9.45" fill="#0068c9"/>
<rect x="395.67" y="326.29" width="4.5" height="75.58" fill="#0068c9"/>
<rect x="395.67" y="184.57" width="4.5" height="141.72" fill="#ff2b2b"/>
<rect x="395.67" y="175.12" width="4.5" height="9.45" fill="#ffabab"/>
<rect x="395.67" y="165.67" width="4.5" height="9.45" fill="#29b09d"/>
<rect x="395.67" y="156.22" width="4.5" height="9.45" fill="#6d3fc0"/>
<rect x="395.67" y="137.33" width="4.5" height="18.90" fill="#d5dae5"/>
<rect x="395.67" y="127.88" width="4.5" height="9.45" fill="#0068c9"/>
<rect x="401.48" y="326.29" width="4.5" height="75.58" fill="#0068c9"/>
<rect x="401.48" y="316.84" width="4.5" height="9.45" fill="#83c9ff"/>
<rect x="401.48" y="203.46" width="4.5" height="113.38" fill="#ff2b2b"/>
<rect x="401.48" y="194.01" width="4.5" height="9.45" fill="#ffabab"/>
<rect x="401.48" y="175.12" width="4.5" height="18.90" fill="#29b09d"/>
<rect x="401.48" y="156.22" width="4.5" height="18.90" fill="#7defa1"/>
<rect x="401.48" y="146.77" width="4.5" height="9.45" fill="#6d3fc0"/>
<rect x="401.48" y="118.43" width="4.5" height="28.34" fill="#d5dae5"/>
<rect x="401.48" y="108.98" width="4.5" height="9.45" fill="#0068c9"/>
<rect x="407.28" y="316.84" width="4.5" height="85.03" fill="#0068c9"/>
<rect x="407.28" y="175.12" width="4.5" height="141.72" fill="#ff2b2b"/>
<rect x="407.28" y="165.67" width="4.5" height="9.45" fill="#ffabab"/>
<rect x="407.28" y="156.22" width="4.5" height="9.45" fill="#29b09d"/>
<rect x="407.28" y="146.77" width="4.5" height="9.45" fill="#7defa1"/>
<rect x="407.28" y="137.33" width="4.5" height="9.45" fill="#ff8700"/>
<rect x="407.28" y="108.98" width="4.5" height="28.34" fill="#ffd16a"/>
<rect x="407.28" y="99.53" width="4.5" height="9.45" fill="#6d3fc0"/>
<rect x="407.28" y="80.64" width="4.5" height="18.90" fill="#d5dae5"/>
<rect x="407.28" y="71.19" width="4.5" height="9.45" fill="#0068c9"/>
<rect x="413.09" y="326.29" width="4.5" height="75.58" fill="#0068c9"/>
<rect x="413.09" y="175.12" width="4.5" height="151.17" fill="#ff2b2b"/>
<rect x="413.09" y="165.67" width="4.5" height="9.45" fill="#ffabab"/>
<rect x="413.09" y="156.22" width="4.5" height="9.45" fill="#29b09d"/>
<rect x="413.09" y="146.77" width="4.5" height="9.45" fill="#7defa1"/>
<rect x="413.09" y="137.33" width="4.5" height="9.45" fill="#ff8700"/>
<rect x="413.09" y="127.88" width="4.5" height="9.45" fill="#ffd16a"/>
<rect x="413.09" y="118.43" width="4.5" height="9.45" fill="#6d3fc0"/>
<rect x="413.09" y="99.53" width="4.5" height="18.90" fill="#d5dae5"/>
<rect x="413.09" y="90.09" width="4.5" height="9.45" fill="#0068c9"/>
<rect x="418.90" y="326.29" width="4.5" height="75.58" fill="#0068c9"/>
<rect x="418.90" y="316.84" width="4.5" height="9.45" fill="#83c9ff"/>
<rect x="418.90" y="175.12" width="4.5" height="141.72" fill="#ff2b2b"/>
<rect x="418.90" y="165.67" width="4.5" height="9.45" fill="#ffabab"/>
<rect x="418.90" y="156.22" width="4.5" height="9.45" fill="#29b09d"/>
<rect x="418.90" y="137.33" width="4.5" height="18.90" fill="#7defa1"/>
<rect x="418.90" y="127.88" width="4.5" height="9.45" fill="#6d3fc0"/>
<rect x="418.90" y="80.64" width="4.5" height="47.24" fill="#d5dae5"/>
<rect x="418.90" y="71.19" width="4.5" height="9.45" fill="#0068c9"/>
<rect x="424.70" y="297.94" width="4.5" height="103.93" fill="#0068c9"/>
<rect x="424.70" y="269.60" width="4.5" height="28.34" fill="#83c9ff"/>
<rect x="424.70" y="127.88" width="4.5" height="141.72" fill="#ff2b2b"/>
<rect x="424.70" y="118.43" width="4.5" height="9.45" fill="#ffabab"/>
<rect x="424.70" y="90.09" width="4.5" height="28.34" fill="#29b09d"/>
<rect x="424.70" y="71.19" width="4.5" height="18.90" fill="#7defa1"/>
<rect x="424.70" y="61.74" width="4.5" height="9.45" fill="#ff8700"/>
<rect x="424.70" y="52.29" width="4.5" height="9.45" fill="#ffd16a"/>
<rect x="424.70" y="33.40" width="4.5" height="18.90" fill="#d5dae5"/>
<rect x="424.70" y="23.95" width="4.5" height="9.45" fill="#0068c9"/>
<rect x="430.51" y="307.39" width="4.5" height="94.48" fill="#0068c9"/>
<rect x="430.51" y="297.94" width="4.5" height="9.45" fill="#83c9ff"/>
<rect x="430.51" y="175.12" width="4.5" height="122.82" fill="#ff2b2b"/>
<rect x="430.51" y="165.67" width="4.5" height="9.45" fill="#ffabab"/>
<rect x="430.51" y="156.22" width="4.5" height="9.45" fill="#29b09d"/>
<rect x="430.51" y="127.88" width="4.5" height="28.34" fill="#7defa1"/>
<rect x="430.51" y="118.43" width="4.5" height="9.45" fill="#ff8700"/>
<rect x="430.51" y="108.98" width="4.5" height="9.45" fill="#ffd16a"/>
<rect x="430.51" y="99.53" width="4.5" height="9.45" fill="#d5dae5"/>
<rect x="430.51" y="90.09" width="4.5" height="9.45" fill="#0068c9"/>
<rect x="436.31" y="316.84" width="4.5" height="85.03" fill="#0068c9"/>
<rect x="436.31" y="307.39" width="4.5" height="9.45" fill="#83c9ff"/>
<rect x="436.31" y="184.57" width="4.5" height="122.82" fill="#ff2b2b"/>
<rect x="436.31" y="165.67" width="4.5" height="18.90" fill="#ffabab"/>
<rect x="436.31" y="146.77" width="4.5" height="18.90" fill="#29b09d"/>
<rect x="436.31" y="118.43" width="4.5" height="28.34" fill="#7defa1"/>
<rect x="436.31" y="108.98" width="4.5" height="9.45" fill="#ff8700"/>
<rect x="436.31" y="99.53" width="4.5" height="9.45" fill="#ffd16a"/>
<rect x="436.31" y="71.19" width="4.5" height="28.34" fill="#d5dae5"/>
<rect x="436.31" y="61.74" width="4.5" height="9.45" fill="#0068c9"/>
<rect x="442.12" y="316.84" width="4.5" height="85.03" fill="#0068c9"/>
<rect x="442.12" y="297.94" width="4.5" height="18.90" fill="#83c9ff"/>
<rect x="442.12" y="165.67" width="4.5" height="132.27" fill="#ff2b2b"/>
<rect x="442.12" y="156.22" width="4.5" height="9.45" fill="#ffabab"/>
<rect x="442.12" y="146.77" width="4.5" height="9.45" fill="#29b09d"/>
<rect x="442.12" y="127.88" width="4.5" height="18.90" fill="#7defa1"/>
<rect x="442.12" y="118.43" width="4.5" height="9.45" fill="#ff8700"/>
<rect x="442.12" y="99.53" width="4.5" height="18.90" fill="#ffd16a"/>
<rect x="442.12" y="80.64" width="4.5" height="18.90" fill="#d5dae5"/>
<rect x="442.12" y="71.19" width="4.5" height="9.45" fill="#0068c9"/>
<rect x="442.12" y="61.74" width="4.5" height="9.45" fill="#29b09d"/>
<rect x="447.93" y="335.73" width="4.5" height="66.14" fill="#0068c9"/>
<rect x="447.93" y="316.84" width="4.5" height="18.90" fill="#83c9ff"/>
<rect x="447.93" y="231.81" width="4.5" height="85.03" fill="#ff2b2b"/>
<rect x="447.93" y="222.36" width="4.5" height="9.45" fill="#ffabab"/>
<rect x="447.93" y="203.46" width="4.5" height="18.90" fill="#29b09d"/>
<rect x="447.93" y="194.01" width="4.5" height="9.45" fill="#7defa1"/>
<rect x="447.93" y="184.57" width="4.5" height="9.45" fill="#0068c9"/>
<rect x="447.93" y="175.12" width="4.5" height="9.45" fill="#ffabab"/>
<rect x="447.93" y="165.67" width="4.5" height="9.45" fill="#29b09d"/>
<rect x="453.73" y="335.73" width="4.5" height="66.14" fill="#0068c9"/>
<rect x="453.73" y="316.84" width="4.5" height="18.90" fill="#83c9ff"/>
<rect x="453.73" y="222.36" width="4.5" height="94.48" fill="#ff2b2b"/>
<rect x="453.73" y="212.91" width="4.5" height="9.45" fill="#ffabab"/>
<rect x="453.73" y="194.01" width="4.5" height="18.90" fill="#29b09d"/>
<rect x="453.73" y="165.67" width="4.5" height="28.34" fill="#7defa1"/>
<rect x="453.73" y="146.77" width="4.5" height="18.90" fill="#d5dae5"/>
<rect x="453.73" y="137.33" width="4.5" height="9.45" fill="#0068c9"/>
<rect x="453.73" y="127.88" width="4.5" height="9.45" fill="#29b09d"/>
<rect x="459.54" y="392.42" width="4.5" height="9.45" fill="#0068c9"/>
<rect x="459.54" y="382.97" width="4.5" height="9.45" fill="#83c9ff"/>
<rect x="459.54" y="288.49" width="4.5" height="94.48" fill="#ff2b2b"/>
<rect x="459.54" y="279.05" width="4.5" height="9.45" fill="#ffabab"/>
<rect x="459.54" y="250.70" width="4.5" height="28.34" fill="#29b09d"/>
<rect x="459.54" y="241.25" width="4.5" height="9.45" fill="#7defa1"/>
<rect x="459.54" y="222.36" width="4.5" height="18.90" fill="#d5dae5"/>
<rect x="459.54" y="212.91" width="4.5" height="9.45" fill="#0068c9"/>
<rect x="465.34" y="288.49" width="4.5" height="113.38" fill="#0068c9"/>
<rect x="465.34" y="279.05" width="4.5" height="9.45" fill="#83c9ff"/>
<rect x="465.34" y="175.12" width="4.5" height="103.93" fill="#ff2b2b"/>
<rect x="465.34" y="165.67" width="4.5" height="9.45" fill="#ffabab"/>
<rect x="465.34" y="156.22" width="4.5" height="9.45" fill="#29b09d"/>
<rect x="465.34" y="137.33" width="4.5" height="18.90" fill="#7defa1"/>
<rect x="465.34" y="127.88" width="4.5" height="9.45" fill="#0068c9"/>
<rect x="465.34" y="118.43" width="4.5" height="9.45" fill="#ffabab"/>
<rect x="471.15" y="307.39" width="4.5" height="94.48" fill="#0068c9"/>
<rect x="471.15" y="297.94" width="4.5" height="9.45" fill="#83c9ff"/>
<rect x="471.15" y="212.91" width="4.5" height="85.03" fill="#ff2b2b"/>
<rect x="471.15" y="194.01" width="4.5" height="18.90" fill="#ffabab"/>
<rect x="471.15" y="165.67" width="4.5" height="28.34" fill="#29b09d"/>
<rect x="471.15" y="137.33" width="4.5" height="28.34" fill="#7defa1"/>
<rect x="471.15" y="127.88" width="4.5" height="9.45" fill="#0068c9"/>
<rect x="476.96" y="316.84" width="4.5" height="85.03" fill="#0068c9"/>
<rect x="476.96" y="307.39" width="4.5" height="9.45" fill="#83c9ff"/>
<rect x="476.96" y="222.36" width="4.5" height="85.03" fill="#ff2b2b"/>
<rect x="476.96" y="212.91" width="4.5" height="9.45" fill="#ffabab"/>
<rect x="476.96" y="194.01" width="4.5" height="18.90" fill="#29b09d"/>
<rect x="476.96" y="184.57" width="4.5" height="9.45" fill="#7defa1"/>
<rect x="476.96" y="175.12" width="4.5" height="9.45" fill="#0068c9"/>
<rect x="476.96" y="165.67" width="4.5" height="9.45" fill="#ffabab"/>
<rect x="482.76" y="316.84" width="4.5" height="85.03" fill="#0068c9"/>
<rect x="482.76" y="297.94" width="4.5" height="18.90" fill="#83c9ff"/>
<rect x="482.76" y="194.01" width="4.5" height="103.93" fill="#ff2b2b"/>
<rect x="482.76" y="184.57" width="4.5" height="9.45" fill="#ffabab"/>
<rect x="482.76" y="165.67" width="4.5" height="18.90" fill="#29b09d"/>
<rect x="482.76" y="146.77" width="4.5" height="18.90" fill="#7defa1"/>
<rect x="482.76" y="137.33" width="4.5" height="9.45" fill="#0068c9"/>
<rect x="488.57" y="316.84" width="4.5" height="85.03" fill="#0068c9"/>
<rect x="488.57" y="307.39" width="4.5" height="9.45" fill="#83c9ff"/>
<rect x="488.57" y="212.91" width="4.5" height="94.48" fill="#ff2b2b"/>
<rect x="488.57" y="203.46" width="4.5" height="9.45" fill="#ffabab"/>
<rect x="488.57" y="194.01" width="4.5" height="9.45" fill="#29b09d"/>
<rect x="488.57" y="184.57" width="4.5" height="9.45" fill="#7defa1"/>
<rect x="488.57" y="175.12" width="4.5" height="9.45" fill="#ffd16a"/>
<rect x="488.57" y="165.67" width="4.5" height="9.45" fill="#0068c9"/>
<rect x="488.57" y="156.22" width="4.5" height="9.45" fill="#ffabab"/>
<rect x="494.37" y="354.63" width="4.5" height="47.24" fill="#0068c9"/>
<rect x="494.37" y="335.73" width="4.5" height="18.90" fill="#83c9ff"/>
<rect x="494.37" y="250.70" width="4.5" height="85.03" fill="#ff2b2b"/>
<rect x="494.37" y="241.25" width="4.5" height="9.45" fill="#ffabab"/>
<rect x="494.37" y="231.81" width="4.5" height="9.45" fill="#29b09d"/>
<rect x="494.37" y="203.46" width="4.5" height="28.34" fill="#7defa1"/>
<rect x="494.37" y="194.01" width="4.5" height="9.45" fill="#d5dae5"/>
<rect x="494.37" y="184.57" width="4.5" height="9.45" fill="#0068c9"/>
<rect x="494.37" y="175.12" width="4.5" height="9.45" fill="#ffabab"/>
<rect x="500.18" y="345.18" width="4.5" height="56.69" fill="#0068c9"/>
<rect x="500.18" y="250.70" width="4.5" height="94.48" fill="#ff2b2b"/>
<rect x="500.18" y="241.25" width="4.5" height="9.45" fill="#ffabab"/>
<rect x="500.18" y="231.81" width="4.5" height="9.45" fill="#29b09d"/>
<rect x="500.18" y="222.36" width="4.5" height="9.45" fill="#7defa1"/>
<rect x="500.18" y="212.91" width="4.5" height="9.45" fill="#ffd16a"/>
<rect x="500.18" y="203.46" width="4.5" height="9.45" fill="#0068c9"/>
<rect x="500.18" y="194.01" width="4.5" height="9.45" fill="#ffabab"/>
<rect x="505.99" y="345.18" width="4.5" height="56.69" fill="#0068c9"/>
<rect x="505.99" y="335.73" width="4.5" height="9.45" fill="#83c9ff"/>
<rect x="505.99" y="250.70" width="4.5" height="85.03" fill="#ff2b2b"/>
<rect x="505.99" y="241.25" width="4.5" height="9.45" fill="#ffabab"/>
<rect x="505.99" y="231.81" width="4.5" height="9.45" fill="#29b09d"/>
<rect x="505.99" y="222.36" width="4.5" height="9.45" fill="#0068c9"/>
<rect x="505.99" y="212.91" width="4.5" height="9.45" fill="#ffabab"/>
<rect x="511.79" y="345.18" width="4.5" height="56.69" fill="#0068c9"/>
<rect x="511.79" y="335.73" width="4.5" height="9.45" fill="#83c9ff"/>
<rect x="511.79" y="241.25" width="4.5" height="94.48" fill="#ff2b2b"/>
<rect x="511.79" y="231.81" width="4.5" height="9.45" fill="#ffabab"/>
<rect x="511.79" y="212.91" width="4.5" height="18.90" fill="#29b09d"/>
<rect x="511.79" y="203.46" width="4.5" height="9.45" fill="#7defa1"/>
<rect x="511.79" y="194.01" width="4.5" height="9.45" fill="#ff8700"/>
<rect x="511.79" y="184.57" width="4.5" height="9.45" fill="#0068c9"/>
<rect x="511.79" y="175.12" width="4.5" height="9.45" fill="#ffabab"/>
<rect x="517.60" y="326.29" width="4.5" height="75.58" fill="#0068c9"/>
<rect x="517.60" y="316.84" width="4.5" height="9.45" fill="#83c9ff"/>
<rect x="517.60" y="203.46" width="4.5" height="113.38" fill="#ff2b2b"/>
<rect x="517.60" y="194.01" width="4.5" height="9.45" fill="#ffabab"/>
<rect x="517.60" y="175.12" width="4.5" height="18.90" fill="#29b09d"/>
<rect x="517.60" y="165.67" width="4.5" height="9.45" fill="#0068c9"/>
<rect x="517.60" y="156.22" width="4.5" height="9.45" fill="#ffabab"/>
<rect x="523.40" y="373.53" width="4.5" height="28.34" fill="#0068c9"/>
<rect x="523.40" y="364.08" width="4.5" height="9.45" fill="#83c9ff"/>
<rect x="523.40" y="269.60" width="4.5" height="94.48" fill="#ff2b2b"/>
<rect x="523.40" y="260.15" width="4.5" height="9.45" fill="#ffabab"/>
<rect x="523.40" y="231.81" width="4.5" height="28.34" fill="#29b09d"/>
<rect x="523.40" y="222.36" width="4.5" height="9.45" fill="#d5dae5"/>
<rect x="523.40" y="212.91" width="4.5" height="9.45" fill="#0068c9"/>
<rect x="523.40" y="203.46" width="4.5" height="9.45" fill="#ffabab"/>
<rect x="529.21" y="364.08" width="4.5" height="37.79" fill="#0068c9"/>
<rect x="529.21" y="354.63" width="4.5" height="9.45" fill="#83c9ff"/>
<rect x="529.21" y="297.94" width="4.5" height="56.69" fill="#ff2b2b"/>
<rect x="529.21" y="288.49" width="4.5" height="9.45" fill="#ffabab"/>
<rect x="529.21" y="269.60" width="4.5" height="18.90" fill="#29b09d"/>
<rect x="529.21" y="260.15" width="4.5" height="9.45" fill="#d5dae5"/>
<rect x="529.21" y="250.70" width="4.5" height="9.45" fill="#0068c9"/>
<rect x="529.21" y="241.25" width="4.5" height="9.45" fill="#ffabab"/>
<rect x="535.02" y="354.63" width="4.5" height="47.24" fill="#0068c9"/>
<rect x="535.02" y="345.18" width="4.5" height="9.45" fill="#83c9ff"/>
<rect x="535.02" y="269.60" width="4.5" height="75.58" fill="#ff2b2b"/>
<rect x="535.02" y="260.15" width="4.5" height="9.45" fill="#ffabab"/>
<rect x="535.02" y="231.81" width="4.5" height="28.34" fill="#29b09d"/>
<rect x="535.02" y="222.36" width="4.5" height="9.45" fill="#6d3fc0"/>
<rect x="535.02" y="203.46" width="4.5" height="18.90" fill="#d5dae5"/>
<rect x="535.02" y="194.01" width="4.5" height="9.45" fill="#0068c9"/>
<rect x="535.02" y="184.57" width="4.5" height="9.45" fill="#ffabab"/>
<rect x="540.82" y="345.18" width="4.5" height="56.69" fill="#0068c9"/>
<rect x="540.82" y="335.73" width="4.5" height="9.45" fill="#83c9ff"/>
<rect x="540.82" y="260.15" width="4.5" height="75.58" fill="#ff2b2b"/>
<rect x="540.82" y="250.70" width="4.5" height="9.45" fill="#ffabab"/>
<rect x="540.82" y="222.36" width="4.5" height="28.34" fill="#29b09d"/>
<rect x="540.82" y="212.91" width="4.5" height="9.45" fill="#6d3fc0"/>
<rect x="540.82" y="203.46" width="4.5" height="9.45" fill="#d5dae5"/>
<rect x="540.82" y="194.01" width="4.5" height="9.45" fill="#0068c9"/>
<rect x="540.82" y="184.57" width="4.5" height="9.45" fill="#ffabab"/>
<rect x="546.63" y="335.73" width="4.5" height="66.14" fill="#0068c9"/>
<rect x="546.63" y="326.29" width="4.5" height="9.45" fill="#83c9ff"/>
<rect x="546.63" y="231.81" width="4.5" height="94.48" fill="#ff2b2b"/>
<rect x="546.63" y="222.36" width="4.5" height="9.45" fill="#ffabab"/>
<rect x="546.63" y="194.01" width="4.5" height="28.34" fill="#29b09d"/>
<rect x="546.63" y="175.12" width="4.5" height="18.90" fill="#ffd16a"/>
<rect x="546.63" y="165.67" width="4.5" height="9.45" fill="#6d3fc0"/>
<rect x="546.63" y="156.22" width="4.5" height="9.45" fill="#d5dae5"/>
<rect x="546.63" y="146.77" width="4.5" height="9.45" fill="#0068c9"/>
<rect x="546.63" y="137.33" width="4.5" height="9.45" fill="#ffabab"/>
<rect x="552.43" y="354.63" width="4.5" height="47.24" fill="#0068c9"/>
<rect x="552.43" y="279.05" width="4.5" height="75.58" fill="#ff2b2b"/>
<rect x="552.43" y="260.15" width="4.5" height="18.90" fill="#ffabab"/>
<rect x="552.43" y="231.81" width="4.5" height="28.34" fill="#29b09d"/>
<rect x="552.43" y="212.91" width="4.5" height="18.90" fill="#ffd16a"/>
<rect x="552.43" y="203.46" width="4.5" height="9.45" fill="#d5dae5"/>
<rect x="552.43" y="194.01" width="4.5" height="9.45" fill="#0068c9"/>
<rect x="552.43" y="184.57" width="4.5" height="9.45" fill="#ffabab"/>
<rect x="558.24" y="364.08" width="4.5" height="37.79" fill="#0068c9"/>
<rect x="558.24" y="354.63" width="4.5" height="9.45" fill="#83c9ff"/>
<rect x="558.24" y="269.60" width="4.5" height="85.03" fill="#ff2b2b"/>
<rect x="558.24" y="250.70" width="4.5" height="18.90" fill="#ffabab"/>
<rect x="558.24" y="212.91" width="4.5" height="37.79" fill="#29b09d"/>
<rect x="558.24" y="194.01" width="4.5" height="18.90" fill="#ffd16a"/>
<rect x="558.24" y="184.57" width="4.5" height="9.45" fill="#d5dae5"/>
<rect x="558.24" y="175.12" width="4.5" height="9.45" fill="#0068c9"/>
<rect x="558.24" y="165.67" width="4.5" height="9.45" fill="#ffabab"/>
<rect x="564.05" y="382.97" width="4.5" height="18.90" fill="#0068c9"/>
<rect x="564.05" y="373.53" width="4.5" height="9.45" fill="#83c9ff"/>
<rect x="564.05" y="279.05" width="4.5" height="94.48" fill="#ff2b2b"/>
<rect x="564.05" y="269.60" width="4.5" height="9.45" fill="#ffabab"/>
<rect x="564.05" y="231.81" width="4.5" height="37.79" fill="#29b09d"/>
<rect x="564.05" y="212.91" width="4.5" height="18.90" fill="#ffd16a"/>
<rect x="564.05" y="203.46" width="4.5" height="9.45" fill="#d5dae5"/>
<rect x="564.05" y="194.01" width="4.5" height="9.45" fill="#0068c9"/>
<rect x="564.05" y="184.57" width="4.5" height="9.45" fill="#ffabab"/>
<rect x="569.85" y="364.08" width="4.5" height="37.79" fill="#0068c9"/>
<rect x="569.85" y="354.63" width="4.5" height="9.45" fill="#83c9ff"/>
<rect x="569.85" y="241.25" width="4.5" height="113.38" fill="#ff2b2b"/>
<rect x="569.85" y="231.81" width="4.5" height="9.45" fill="#ffabab"/>
<rect x="569.85" y="194.01" width="4.5" height="37.79" fill="#29b09d"/>
<rect x="569.85" y="184.57" width="4.5" height="9.45" fill="#7defa1"/>
<rect x="569.85" y="165.67" width="4.5" height="18.90" fill="#ffd16a"/>
<rect x="569.85" y="156.22" width="4.5" height="9.45" fill="#0068c9"/>
<rect x="569.85" y="146.77" width="4.5" height="9.45" fill="#ffabab"/>
<rect x="575.66" y="373.53" width="4.5" height="28.34" fill="#0068c9"/>
<rect x="575.66" y="279.05" width="4.5" height="94.48" fill="#ff2b2b"/>
<rect x="575.66" y="269.60" width="4.5" height="9.45" fill="#ffabab"/>
<rect x="575.66" y="250.70" width="4.5" height="18.90" fill="#29b09d"/>
<rect x="575.66" y="241.25" width="4.5" height="9.45" fill="#d5dae5"/>
<rect x="575.66" y="231.81" width="4.5" height="9.45" fill="#0068c9"/>
<rect x="575.66" y="222.36" width="4.5" height="9.45" fill="#ffabab"/>
<rect x="581.46" y="382.97" width="4.5" height="18.90" fill="#0068c9"/>
<rect x="581.46" y="288.49" width="4.5" height="94.48" fill="#ff2b2b"/>
<rect x="581.46" y="279.05" width="4.5" height="9.45" fill="#ffabab"/>
<rect x="581.46" y="260.15" width="4.5" height="18.90" fill="#29b09d"/>
<rect x="581.46" y="250.70" width="4.5" height="9.45" fill="#0068c9"/>
<rect x="581.46" y="241.25" width="4.5" height="9.45" fill="#ffabab"/>
<rect x="587.27" y="373.53" width="4.5" height="28.34" fill="#0068c9"/>
<rect x="587.27" y="288.49" width="4.5" height="85.03" fill="#ff2b2b"/>
<rect x="587.27" y="269.60" width="4.5" height="18.90" fill="#ffabab"/>
<rect x="587.27" y="250.70" width="4.5" height="18.90" fill="#29b09d"/>
<rect x="587.27" y="241.25" width="4.5" height="9.45" fill="#0068c9"/>
<rect x="587.27" y="231.81" width="4.5" height="9.45" fill="#ffabab"/>
<rect x="593.08" y="382.97" width="4.5" height="18.90" fill="#0068c9"/>
<rect x="593.08" y="279.05" width="4.5" height="103.93" fill="#ff2b2b"/>
<rect x="593.08" y="269.60" width="4.5" height="9.45" fill="#ffabab"/>
<rect x="593.08" y="241.25" width="4.5" height="28.34" fill="#29b09d"/>
<rect x="593.08" y="231.81" width="4.5" height="9.45" fill="#0068c9"/>
<rect x="593.08" y="222.36" width="4.5" height="9.45" fill="#ffabab"/>
<rect x="598.88" y="354.63" width="4.5" height="47.24" fill="#0068c9"/>
<rect x="598.88" y="260.15" width="4.5" height="94.48" fill="#ff2b2b"/>
<rect x="598.88" y="250.70" width="4.5" height="9.45" fill="#ffabab"/>
<rect x="598.88" y="231.81" width="4.5" height="18.90" fill="#29b09d"/>
<rect x="598.88" y="222.36" width="4.5" height="9.45" fill="#d5dae5"/>
<rect x="598.88" y="212.91" width="4.5" height="9.45" fill="#0068c9"/>
<rect x="598.88" y="203.46" width="4.5" height="9.45" fill="#83c9ff"/>
<rect x="598.88" y="194.01" width="4.5" height="9.45" fill="#ffabab"/>
<rect x="604.69" y="354.63" width="4.5" height="47.24" fill="#0068c9"/>
<rect x="604.69" y="345.18" width="4.5" height="9.45" fill="#83c9ff"/>
<rect x="604.69" y="241.25" width="4.5" height="103.93" fill="#ff2b2b"/>
<rect x="604.69" y="231.81" width="4.5" height="9.45" fill="#ffabab"/>
<rect x="604.69" y="212.91" width="4.5" height="18.90" fill="#29b09d"/>
<rect x="604.69" y="203.46" width="4.5" height="9.45" fill="#7defa1"/>
<rect x="604.69" y="194.01" width="4.5" height="9.45" fill="#0068c9"/>
<rect x="610.49" y="354.63" width="4.5" height="47.24" fill="#0068c9"/>
<rect x="610.49" y="345.18" width="4.5" height="9.45" fill="#83c9ff"/>
<rect x="610.49" y="231.81" width="4.5" height="113.38" fill="#ff2b2b"/>
<rect x="610.49" y="222.36" width="4.5" height="9.45" fill="#7defa1"/>
<rect x="610.49" y="212.91" width="4.5" height="9.45" fill="#ff8700"/>
<rect x="610.49" y="203.46" width="4.5" height="9.45" fill="#d5dae5"/>
<rect x="610.49" y="194.01" width="4.5" height="9.45" fill="#0068c9"/>
<rect x="616.30" y="354.63" width="4.5" height="47.24" fill="#0068c9"/>
<rect x="616.30" y="250.70" width="4.5" height="103.93" fill="#ff2b2b"/>
<rect x="616.30" y="231.81" width="4.5" height="18.90" fill="#d5dae5"/>
<rect x="616.30" y="222.36" width="4.5" height="9.45" fill="#0068c9"/>
<rect x="622.11" y="373.53" width="4.5" height="28.34" fill="#0068c9"/>
<rect x="622.11" y="241.25" width="4.5" height="132.27" fill="#ff2b2b"/>
<rect x="622.11" y="231.81" width="4.5" height="9.45" fill="#ffabab"/>
<rect x="622.11" y="212.91" width="4.5" height="18.90" fill="#29b09d"/>
<rect x="622.11" y="203.46" width="4.5" height="9.45" fill="#d5dae5"/>
<rect x="622.11" y="194.01" width="4.5" height="9.45" fill="#0068c9"/>
<rect x="627.91" y="373.53" width="4.5" height="28.34" fill="#0068c9"/>
<rect x="627.91" y="222.36" width="4.5" height="151.17" fill="#ff2b2b"/>
<rect x="627.91" y="212.91" width="4.5" height="9.45" fill="#ffabab"/>
<rect x="627.91" y="203.46" width="4.5" height="9.45" fill="#29b09d"/>
<rect x="627.91" y="194.01" width="4.5" height="9.45" fill="#0068c9"/>
<rect x="627.91" y="184.57" width="4.5" height="9.45" fill="#ffabab"/>
<rect x="633.72" y="392.42" width="4.5" height="9.45" fill="#0068c9"/>
<rect x="633.72" y="250.70" width="4.5" height="141.72" fill="#ff2b2b"/>
<rect x="633.72" y="231.81" width="4.5" height="18.90" fill="#29b09d"/>
<rect x="633.72" y="222.36" width="4.5" height="9.45" fill="#6d3fc0"/>
<rect x="633.72" y="212.91" width="4.5" height="9.45" fill="#d5dae5"/>
<rect x="633.72" y="203.46" width="4.5" height="9.45" fill="#0068c9"/>
<rect x="633.72" y="194.01" width="4.5" height="9.45" fill="#83c9ff"/>
<rect x="639.52" y="392.42" width="4.5" height="9.45" fill="#0068c9"/>
<rect x="639.52" y="269.60" width="4.5" height="122.82" fill="#ff2b2b"/>
<rect x="639.52" y="260.15" width="4.5" height="9.45" fill="#29b09d"/>
<rect x="639.52" y="250.70" width="4.5" height="9.45" fill="#6d3fc0"/>
<rect x="639.52" y="241.25" width="4.5" height="9.45" fill="#d5dae5"/>
<rect x="639.52" y="231.81" width="4.5" height="9.45" fill="#0068c9"/>
<rect x="645.33" y="382.97" width="4.5" height="18.90" fill="#0068c9"/>
<rect x="645.33" y="279.05" width="4.5" height="103.93" fill="#ff2b2b"/>
<rect x="645.33" y="260.15" width="4.5" height="18.90" fill="#29b09d"/>
<rect x="645.33" y="250.70" width="4.5" height="9.45" fill="#6d3fc0"/>
<rect x="645.33" y="241.25" width="4.5" height="9.45" fill="#0068c9"/>
<rect x="651.14" y="373.53" width="4.5" height="28.34" fill="#0068c9"/>
<rect x="651.14" y="269.60" width="4.5" height="103.93" fill="#ff2b2b"/>
<rect x="651.14" y="250.70" width="4.5" height="18.90" fill="#29b09d"/>
<rect x="651.14" y="241.25" width="4.5" height="9.45" fill="#6d3fc0"/>
<rect x="651.14" y="231.81" width="4.5" height="9.45" fill="#d5dae5"/>
<rect x="651.14" y="222.36" width="4.5" height="9.45" fill="#0068c9"/>
<rect x="656.94" y="364.08" width="4.5" height="37.79" fill="#0068c9"/>
<rect x="656.94" y="260.15" width="4.5" height="103.93" fill="#ff2b2b"/>
<rect x="656.94" y="250.70" width="4.5" height="9.45" fill="#29b09d"/>
<rect x="656.94" y="241.25" width="4.5" height="9.45" fill="#6d3fc0"/>
<rect x="656.94" y="231.81" width="4.5" height="9.45" fill="#d5dae5"/>
<rect x="656.94" y="222.36" width="4.5" height="9.45" fill="#0068c9"/>
<rect x="662.75" y="382.97" width="4.5" height="18.90" fill="#0068c9"/>
<rect x="662.75" y="373.53" width="4.5" height="9.45" fill="#83c9ff"/>
<rect x="662.75" y="269.60" width="4.5" height="103.93" fill="#ff2b2b"/>
<rect x="662.75" y="260.15" width="4.5" height="9.45" fill="#29b09d"/>
<rect x="662.75" y="250.70" width="4.5" height="9.45" fill="#ffd16a"/>
<rect x="662.75" y="241.25" width="4.5" height="9.45" fill="#6d3fc0"/>
<rect x="662.75" y="231.81" width="4.5" height="9.45" fill="#d5dae5"/>
<rect x="662.75" y="222.36" width="4.5" height="9.45" fill="#0068c9"/>
<rect x="668.55" y="373.53" width="4.5" height="28.34" fill="#0068c9"/>
<rect x="668.55" y="269.60" width="4.5" height="103.93" fill="#ff2b2b"/>
<rect x="668.55" y="260.15" width="4.5" height="9.45" fill="#ffabab"/>
<rect x="668.55" y="250.70" width="4.5" height="9.45" fill="#29b09d"/>
<rect x="668.55" y="241.25" width="4.5" height="9.45" fill="#ffd16a"/>
<rect x="668.55" y="231.81" width="4.5" height="9.45" fill="#6d3fc0"/>
<rect x="668.55" y="203.46" width="4.5" height="28.34" fill="#d5dae5"/>
<rect x="668.55" y="194.01" width="4.5" height="9.45" fill="#0068c9"/>
<rect x="674.36" y="373.53" width="4.5" height="28.34" fill="#0068c9"/>
<rect x="674.36" y="250.70" width="4.5" height="122.82" fill="#ff2b2b"/>
<rect x="674.36" y="241.25" width="4.5" height="9.45" fill="#ffabab"/>
<rect x="674.36" y="231.81" width="4.5" height="9.45" fill="#29b09d"/>
<rect x="674.36" y="222.36" width="4.5" height="9.45" fill="#6d3fc0"/>
<rect x="674.36" y="194.01" width="4.5" height="28.34" fill="#d5dae5"/>
<rect x="674.36" y="184.57" width="4.5" height="9.45" fill="#0068c9"/>
<rect x="680.17" y="373.53" width="4.5" height="28.34" fill="#0068c9"/>
<rect x="680.17" y="241.25" width="4.5" height="132.27" fill="#ff2b2b"/>
<rect x="680.17" y="231.81" width="4.5" height="9.45" fill="#ffabab"/>
<rect x="680.17" y="212.91" width="4.5" height="18.90" fill="#29b09d"/>
<rect x="680.17" y="203.46" width="4.5" height="9.45" fill="#7defa1"/>
<rect x="680.17" y="194.01" width="4.5" height="9.45" fill="#6d3fc0"/>
<rect x="680.17" y="165.67" width="4.5" height="28.34" fill="#d5dae5"/>
<rect x="680.17" y="156.22" width="4.5" height="9.45" fill="#0068c9"/>
<rect x="680.17" y="146.77" width="4.5" height="9.45" fill="#ff2b2b"/>
<rect x="685.97" y="364.08" width="4.5" height="37.79" fill="#0068c9"/>
<rect x="685.97" y="354.63" width="4.5" height="9.45" fill="#83c9ff"/>
<rect x="685.97" y="194.01" width="4.5" height="160.62" fill="#ff2b2b"/>
<rect x="685.97" y="175.12" width="4.5" height="18.90" fill="#ffabab"/>
<rect x="685.97" y="146.77" width="4.5" height="28.34" fill="#29b09d"/>
<rect x="685.97" y="137.33" width="4.5" height="9.45" fill="#7defa1"/>
<rect x="685.97" y="118.43" width="4.5" height="18.90" fill="#ffd16a"/>
<rect x="685.97" y="90.09" width="4.5" height="28.34" fill="#d5dae5"/>
<rect x="685.97" y="80.64" width="4.5" height="9.45" fill="#0068c9"/>
<rect x="685.97" y="71.19" width="4.5" height="9.45" fill="#ff2b2b"/>
<rect x="691.78" y="345.18" width="4.5" height="56.69" fill="#0068c9"/>
<rect x="691.78" y="335.73" width="4.5" height="9.45" fill="#83c9ff"/>
<rect x="691.78" y="184.57" width="4.5" height="151.17" fill="#ff2b2b"/>
<rect x="691.78" y="175.12" width="4.5" height="9.45" fill="#ffabab"/>
<rect x="691.78" y="156.22" width="4.5" height="18.90" fill="#29b09d"/>
<rect x="691.78" y="146.77" width="4.5" height="9.45" fill="#ffd16a"/>
<rect x="691.78" y="118.43" width="4.5" height="28.34" fill="#d5dae5"/>
<rect x="691.78" y="108.98" width="4.5" height="9.45" fill="#0068c9"/>
<rect x="691.78" y="99.53" width="4.5" height="9.45" fill="#ff2b2b"/>
<rect x="697.58" y="354.63" width="4.5" height="47.24" fill="#0068c9"/>
<rect x="697.58" y="203.46" width="4.5" height="151.17" fill="#ff2b2b"/>
<rect x="697.58" y="194.01" width="4.5" height="9.45" fill="#ffabab"/>
<rect x="697.58" y="184.57" width="4.5" height="9.45" fill="#29b09d"/>
<rect x="697.58" y="165.67" width="4.5" height="18.90" fill="#7defa1"/>
<rect x="697.58" y="137.33" width="4.5" height="28.34" fill="#d5dae5"/>
<rect x="697.58" y="127.88" width="4.5" height="9.45" fill="#0068c9"/>
<rect x="697.58" y="118.43" width="4.5" height="9.45" fill="#ff2b2b"/>
<rect x="703.39" y="382.97" width="4.5" height="18.90" fill="#0068c9"/>
<rect x="703.39" y="212.91" width="4.5" height="170.06" fill="#ff2b2b"/>
<rect x="703.39" y="203.46" width="4.5" height="9.45" fill="#ffabab"/>
<rect x="703.39" y="194.01" width="4.5" height="9.45" fill="#29b09d"/>
<rect x="703.39" y="184.57" width="4.5" height="9.45" fill="#ffd16a"/>
<rect x="703.39" y="156.22" width="4.5" height="28.34" fill="#d5dae5"/>
<rect x="703.39" y="146.77" width="4.5" height="9.45" fill="#0068c9"/>
<rect x="703.39" y="137.33" width="4.5" height="9.45" fill="#ffabab"/>
<rect x="709.20" y="373.53" width="4.5" height="28.34" fill="#0068c9"/>
<rect x="709.20" y="212.91" width="4.5" height="160.62" fill="#ff2b2b"/>
<rect x="709.20" y="203.46" width="4.5" height="9.45" fill="#ffabab"/>
<rect x="709.20" y="194.01" width="4.5" height="9.45" fill="#29b09d"/>
<rect x="709.20" y="184.57" width="4.5" height="9.45" fill="#ffd16a"/>
<rect x="709.20" y="156.22" width="4.5" height="28.34" fill="#d5dae5"/>
<rect x="709.20" y="146.77" width="4.5" height="9.45" fill="#0068c9"/>
<rect x="709.20" y="137.33" width="4.5" height="9.45" fill="#ff2b2b"/>
<rect x="709.20" y="127.88" width="4.5" height="9.45" fill="#ffabab"/>
<rect x="715.00" y="364.08" width="4.5" height="37.79" fill="#0068c9"/>
<rect x="715.00" y="146.77" width="4.5" height="217.30" fill="#ff2b2b"/>
<rect x="715.00" y="137.33" width="4.5" height="9.45" fill="#ffabab"/>
<rect x="715.00" y="118.43" width="4.5" height="18.90" fill="#29b09d"/>
<rect x="715.00" y="71.19" width="4.5" height="47.24" fill="#d5dae5"/>
<rect x="715.00" y="61.74" width="4.5" height="9.45" fill="#0068c9"/>
<rect x="715.00" y="52.29" width="4.5" height="9.45" fill="#ff2b2b"/>
<rect x="720.81" y="373.53" width="4.5" height="28.34" fill="#0068c9"/>
<rect x="720.81" y="203.46" width="4.5" height="170.06" fill="#ff2b2b"/>
<rect x="720.81" y="194.01" width="4.5" height="9.45" fill="#29b09d"/>
<rect x="720.81" y="184.57" width="4.5" height="9.45" fill="#ffd16a"/>
<rect x="720.81" y="146.77" width="4.5" height="37.79" fill="#d5dae5"/>
<rect x="720.81" y="137.33" width="4.5" height="9.45" fill="#0068c9"/>
<rect x="726.61" y="373.53" width="4.5" height="28.34" fill="#0068c9"/>
<rect x="726.61" y="203.46" width="4.5" height="170.06" fill="#ff2b2b"/>
<rect x="726.61" y="194.01" width="4.5" height="9.45" fill="#29b09d"/>
<rect x="726.61" y="165.67" width="4.5" height="28.34" fill="#d5dae5"/>
<rect x="726.61" y="156.22" width="4.5" height="9.45" fill="#0068c9"/>
<rect x="732.42" y="354.63" width="4.5" height="47.24" fill="#0068c9"/>
<rect x="732.42" y="156.22" width="4.5" height="198.41" fill="#ff2b2b"/>
<rect x="732.42" y="146.77" width="4.5" height="9.45" fill="#29b09d"/>
<rect x="732.42" y="108.98" width="4.5" height="37.79" fill="#d5dae5"/>
<rect x="732.42" y="99.53" width="4.5" height="9.45" fill="#0068c9"/>
<rect x="738.23" y="354.63" width="4.5" height="47.24" fill="#0068c9"/>
<rect x="738.23" y="194.01" width="4.5" height="160.62" fill="#ff2b2b"/>
<rect x="738.23" y="184.57" width="4.5" height="9.45" fill="#29b09d"/>
<rect x="738.23" y="175.12" width="4.5" height="9.45" fill="#ffd16a"/>
<rect x="738.23" y="165.67" width="4.5" height="9.45" fill="#6d3fc0"/>
<rect x="738.23" y="137.33" width="4.5" height="28.34" fill="#d5dae5"/>
<rect x="738.23" y="127.88" width="4.5" height="9.45" fill="#0068c9"/>
<rect x="738.23" y="118.43" width="4.5" height="9.45" fill="#29b09d"/>
<rect x="744.03" y="373.53" width="4.5" height="28.34" fill="#0068c9"/>
<rect x="744.03" y="194.01" width="4.5" height="179.51" fill="#ff2b2b"/>
<rect x="744.03" y="184.57" width="4.5" height="9.45" fill="#29b09d"/>
<rect x="744.03" y="146.77" width="4.5" height="37.79" fill="#d5dae5"/>
<rect x="744.03" y="137.33" width="4.5" height="9.45" fill="#0068c9"/>
<rect x="744.03" y="127.88" width="4.5" height="9.45" fill="#29b09d"/>
<rect x="749.84" y="364.08" width="4.5" height="37.79" fill="#0068c9"/>
<rect x="749.84" y="241.25" width="4.5" height="122.82" fill="#ff2b2b"/>
<rect x="749.84" y="231.81" width="4.5" height="9.45" fill="#ffabab"/>
<rect x="749.84" y="222.36" width="4.5" height="9.45" fill="#29b09d"/>
<rect x="749.84" y="194.01" width="4.5" height="28.34" fill="#d5dae5"/>
<rect x="749.84" y="184.57" width="4.5" height="9.45" fill="#0068c9"/>
<rect x="749.84" y="175.12" width="4.5" height="9.45" fill="#29b09d"/>
<rect x="755.64" y="373.53" width="4.5" height="28.34" fill="#0068c9"/>
<rect x="755.64" y="222.36" width="4.5" height="151.17" fill="#ff2b2b"/>
<rect x="755.64" y="212.91" width="4.5" height="9.45" fill="#ffabab"/>
<rect x="755.64" y="203.46" width="4.5" height="9.45" fill="#29b09d"/>
<rect x="755.64" y="184.57" width="4.5" height="18.90" fill="#7defa1"/>
<rect x="755.64" y="156.22" width="4.5" height="28.34" fill="#d5dae5"/>
<rect x="755.64" y="146.77" width="4.5" height="9.45" fill="#0068c9"/>
<rect x="755.64" y="137.33" width="4.5" height="9.45" fill="#29b09d"/>
<rect x="761.45" y="345.18" width="4.5" height="56.69" fill="#0068c9"/>
<rect x="761.45" y="203.46" width="4.5" height="141.72" fill="#ff2b2b"/>
<rect x="761.45" y="194.01" width="4.5" height="9.45" fill="#29b09d"/>
<rect x="761.45" y="184.57" width="4.5" height="9.45" fill="#d5dae5"/>
<rect x="761.45" y="175.12" width="4.5" height="9.45" fill="#0068c9"/>
<rect x="767.26" y="354.63" width="4.5" height="47.24" fill="#0068c9"/>
<rect x="767.26" y="222.36" width="4.5" height="132.27" fill="#ff2b2b"/>
<rect x="767.26" y="212.91" width="4.5" height="9.45" fill="#29b09d"/>
<rect x="767.26" y="194.01" width="4.5" height="18.90" fill="#7defa1"/>
<rect x="767.26" y="184.57" width="4.5" height="9.45" fill="#6d3fc0"/>
<rect x="767.26" y="175.12" width="4.5" height="9.45" fill="#d5dae5"/>
<rect x="767.26" y="165.67" width="4.5" height="9.45" fill="#0068c9"/>
<rect x="773.06" y="345.18" width="4.5" height="56.69" fill="#0068c9"/>
<rect x="773.06" y="250.70" width="4.5" height="94.48" fill="#ff2b2b"/>
<rect x="773.06" y="241.25" width="4.5" height="9.45" fill="#ffabab"/>
<rect x="773.06" y="231.81" width="4.5" height="9.45" fill="#29b09d"/>
<rect x="773.06" y="212.91" width="4.5" height="18.90" fill="#7defa1"/>
<rect x="773.06" y="184.57" width="4.5" height="28.34" fill="#d5dae5"/>
<rect x="773.06" y="175.12" width="4.5" height="9.45" fill="#0068c9"/>
<rect x="773.06" y="165.67" width="4.5" height="9.45" fill="#ff2b2b"/>
<rect x="778.87" y="345.18" width="4.5" height="56.69" fill="#0068c9"/>
<rect x="778.87" y="184.57" width="4.5" height="160.62" fill="#ff2b2b"/>
<rect x="778.87" y="175.12" width="4.5" height="9.45" fill="#ffabab"/>
<rect x="778.87" y="165.67" width="4.5" height="9.45" fill="#29b09d"/>
<rect x="778.87" y="156.22" width="4.5" height="9.45" fill="#7defa1"/>
<rect x="778.87" y="137.33" width="4.5" height="18.90" fill="#d5dae5"/>
<rect x="778.87" y="127.88" width="4.5" height="9.45" fill="#0068c9"/>
<rect x="784.67" y="364.08" width="4.5" height="37.79" fill="#0068c9"/>
<rect x="784.67" y="212.91" width="4.5" height="151.17" fill="#ff2b2b"/>
<rect x="784.67" y="203.46" width="4.5" height="9.45" fill="#7defa1"/>
<rect x="784.67" y="175.12" width="4.5" height="28.34" fill="#d5dae5"/>
<rect x="784.67" y="165.67" width="4.5" height="9.45" fill="#0068c9"/>
<rect x="790.48" y="354.63" width="4.5" height="47.24" fill="#0068c9"/>
<rect x="790.48" y="231.81" width="4.5" height="122.82" fill="#ff2b2b"/>
<rect x="790.48" y="212.91" width="4.5" height="18.90" fill="#29b09d"/>
<rect x="790.48" y="194.01" width="4.5" height="18.90" fill="#7defa1"/>
<rect x="790.48" y="184.57" width="4.5" height="9.45" fill="#6d3fc0"/>
<rect x="790.48" y="165.67" width="4.5" height="18.90" fill="#d5dae5"/>
<rect x="790.48" y="156.22" width="4.5" height="9.45" fill="#0068c9"/>
<rect x="796.29" y="345.18" width="4.5" height="56.69" fill="#0068c9"/>
<rect x="796.29" y="335.73" width="4.5" height="9.45" fill="#83c9ff"/>
<rect x="796.29" y="184.57" width="4.5" height="151.17" fill="#ff2b2b"/>
<rect x="796.29" y="175.12" width="4.5" height="9.45" fill="#29b09d"/>
<rect x="796.29" y="156.22" width="4.5" height="18.90" fill="#7defa1"/>
<rect x="796.29" y="146.77" width="4.5" height="9.45" fill="#ff8700"/>
<rect x="796.29" y="137.33" width="4.5" height="9.45" fill="#6d3fc0"/>
<rect x="796.29" y="99.53" width="4.5" height="37.79" fill="#d5dae5"/>
<rect x="796.29" y="90.09" width="4.5" height="9.45" fill="#0068c9"/>
<rect x="802.09" y="354.63" width="4.5" height="47.24" fill="#0068c9"/>
<rect x="802.09" y="203.46" width="4.5" height="151.17" fill="#ff2b2b"/>
<rect x="802.09" y="184.57" width="4.5" height="18.90" fill="#7defa1"/>
<rect x="802.09" y="175.12" width="4.5" height="9.45" fill="#ff8700"/>
<rect x="802.09" y="156.22" width="4.5" height="18.90" fill="#ffd16a"/>
<rect x="802.09" y="99.53" width="4.5" height="56.69" fill="#d5dae5"/>
<rect x="802.09" y="90.09" width="4.5" height="9.45" fill="#0068c9"/>
<rect x="807.90" y="335.73" width="4.5" height="66.14" fill="#0068c9"/>
<rect x="807.90" y="316.84" width="4.5" height="18.90" fill="#83c9ff"/>
<rect x="807.90" y="194.01" width="4.5" height="122.82" fill="#ff2b2b"/>
<rect x="807.90" y="165.67" width="4.5" height="28.34" fill="#7defa1"/>
<rect x="807.90" y="146.77" width="4.5" height="18.90" fill="#ff8700"/>
<rect x="807.90" y="127.88" width="4.5" height="18.90" fill="#ffd16a"/>
<rect x="807.90" y="118.43" width="4.5" height="9.45" fill="#6d3fc0"/>
<rect x="807.90" y="71.19" width="4.5" height="47.24" fill="#d5dae5"/>
<rect x="807.90" y="61.74" width="4.5" height="9.45" fill="#0068c9"/>
<rect x="813.70" y="297.94" width="4.5" height="103.93" fill="#0068c9"/>
<rect x="813.70" y="269.60" width="4.5" height="28.34" fill="#83c9ff"/>
<rect x="813.70" y="165.67" width="4.5" height="103.93" fill="#ff2b2b"/>
<rect x="813.70" y="127.88" width="4.5" height="37.79" fill="#7defa1"/>
<rect x="813.70" y="108.98" width="4.5" height="18.90" fill="#ff8700"/>
<rect x="813.70" y="99.53" width="4.5" height="9.45" fill="#ffd16a"/>
<rect x="813.70" y="80.64" width="4.5" height="18.90" fill="#d5dae5"/>
<rect x="813.70" y="71.19" width="4.5" height="9.45" fill="#0068c9"/>
<rect x="819.51" y="307.39" width="4.5" height="94.48" fill="#0068c9"/>
<rect x="819.51" y="288.49" width="4.5" height="18.90" fill="#83c9ff"/>
<rect x="819.51" y="194.01" width="4.5" height="94.48" fill="#ff2b2b"/>
<rect x="819.51" y="146.77" width="4.5" height="47.24" fill="#7defa1"/>
<rect x="819.51" y="127.88" width="4.5" height="18.90" fill="#ff8700"/>
<rect x="819.51" y="118.43" width="4.5" height="9.45" fill="#ffd16a"/>
<rect x="819.51" y="80.64" width="4.5" height="37.79" fill="#d5dae5"/>
<rect x="819.51" y="71.19" width="4.5" height="9.45" fill="#0068c9"/>
<rect x="819.51" y="61.74" width="4.5" height="9.45" fill="#29b09d"/>
<rect x="825.32" y="316.84" width="4.5" height="85.03" fill="#0068c9"/>
<rect x="825.32" y="288.49" width="4.5" height="28.34" fill="#83c9ff"/>
<rect x="825.32" y="184.57" width="4.5" height="103.93" fill="#ff2b2b"/>
<rect x="825.32" y="146.77" width="4.5" height="37.79" fill="#7defa1"/>
<rect x="825.32" y="137.33" width="4.5" height="9.45" fill="#ff8700"/>
<rect x="825.32" y="127.88" width="4.5" height="9.45" fill="#ffd16a"/>
<rect x="825.32" y="80.64" width="4.5" height="47.24" fill="#d5dae5"/>
<rect x="825.32" y="71.19" width="4.5" height="9.45" fill="#0068c9"/>
<rect x="831.12" y="307.39" width="4.5" height="94.48" fill="#0068c9"/>
<rect x="831.12" y="279.05" width="4.5" height="28.34" fill="#83c9ff"/>
<rect x="831.12" y="156.22" width="4.5" height="122.82" fill="#ff2b2b"/>
<rect x="831.12" y="146.77" width="4.5" height="9.45" fill="#ffabab"/>
<rect x="831.12" y="108.98" width="4.5" height="37.79" fill="#7defa1"/>
<rect x="831.12" y="90.09" width="4.5" height="18.90" fill="#ff8700"/>
<rect x="831.12" y="71.19" width="4.5" height="18.90" fill="#ffd16a"/>
<rect x="831.12" y="61.74" width="4.5" height="9.45" fill="#d5dae5"/>
<rect x="831.12" y="52.29" width="4.5" height="9.45" fill="#0068c9"/>
<rect x="836.93" y="326.29" width="4.5" height="75.58" fill="#0068c9"/>
<rect x="836.93" y="288.49" width="4.5" height="37.79" fill="#83c9ff"/>
<rect x="836.93" y="184.57" width="4.5" height="103.93" fill="#ff2b2b"/>
<rect x="836.93" y="137.33" width="4.5" height="47.24" fill="#7defa1"/>
<rect x="836.93" y="118.43" width="4.5" height="18.90" fill="#ff8700"/>
<rect x="836.93" y="90.09" width="4.5" height="28.34" fill="#ffd16a"/>
<rect x="836.93" y="61.74" width="4.5" height="28.34" fill="#d5dae5"/>
<rect x="836.93" y="52.29" width="4.5" height="9.45" fill="#0068c9"/>
<rect x="842.73" y="326.29" width="4.5" height="75.58" fill="#0068c9"/>
<rect x="842.73" y="297.94" width="4.5" height="28.34" fill="#83c9ff"/>
<rect x="842.73" y="203.46" width="4.5" height="94.48" fill="#ff2b2b"/>
<rect x="842.73" y="194.01" width="4.5" height="9.45" fill="#29b09d"/>
<rect x="842.73" y="146.77" width="4.5" height="47.24" fill="#7defa1"/>
<rect x="842.73" y="127.88" width="4.5" height="18.90" fill="#ff8700"/>
<rect x="842.73" y="108.98" width="4.5" height="18.90" fill="#ffd16a"/>
<rect x="842.73" y="80.64" width="4.5" height="28.34" fill="#d5dae5"/>
<rect x="842.73" y="71.19" width="4.5" height="9.45" fill="#0068c9"/>
<rect x="842.73" y="61.74" width="4.5" height="9.45" fill="#29b09d"/>
<rect x="848.54" y="335.73" width="4.5" height="66.14" fill="#0068c9"/>
<rect x="848.54" y="316.84" width="4.5" height="18.90" fill="#83c9ff"/>
<rect x="848.54" y="203.46" width="4.5" height="113.38" fill="#ff2b2b"/>
<rect x="848.54" y="194.01" width="4.5" height="9.45" fill="#29b09d"/>
<rect x="848.54" y="146.77" width="4.5" height="47.24" fill="#7defa1"/>
<rect x="848.54" y="118.43" width="4.5" height="28.34" fill="#ff8700"/>
<rect x="848.54" y="108.98" width="4.5" height="9.45" fill="#ffd16a"/>
<rect x="848.54" y="99.53" width="4.5" height="9.45" fill="#d5dae5"/>
<rect x="848.54" y="90.09" width="4.5" height="9.45" fill="#0068c9"/>
<rect x="848.54" y="80.64" width="4.5" height="9.45" fill="#29b09d"/>
<rect x="854.35" y="326.29" width="4.5" height="75.58" fill="#0068c9"/>
<rect x="854.35" y="316.84" width="4.5" height="9.45" fill="#83c9ff"/>
<rect x="854.35" y="212.91" width="4.5" height="103.93" fill="#ff2b2b"/>
<rect x="854.35" y="184.57" width="4.5" height="28.34" fill="#7defa1"/>
<rect x="854.35" y="165.67" width="4.5" height="18.90" fill="#d5dae5"/>
<rect x="854.35" y="156.22" width="4.5" height="9.45" fill="#0068c9"/>
<rect x="854.35" y="146.77" width="4.5" height="9.45" fill="#29b09d"/>
<rect x="860.15" y="345.18" width="4.5" height="56.69" fill="#0068c9"/>
<rect x="860.15" y="326.29" width="4.5" height="18.90" fill="#83c9ff"/>
<rect x="860.15" y="203.46" width="4.5" height="122.82" fill="#ff2b2b"/>
<rect x="860.15" y="194.01" width="4.5" height="9.45" fill="#29b09d"/>
<rect x="860.15" y="184.57" width="4.5" height="9.45" fill="#7defa1"/>
<rect x="860.15" y="175.12" width="4.5" height="9.45" fill="#ffd16a"/>
<rect x="860.15" y="137.33" width="4.5" height="37.79" fill="#d5dae5"/>
<rect x="860.15" y="127.88" width="4.5" height="9.45" fill="#0068c9"/>
<rect x="860.15" y="118.43" width="4.5" height="9.45" fill="#29b09d"/>
<rect x="865.96" y="335.73" width="4.5" height="66.14" fill="#0068c9"/>
<rect x="865.96" y="326.29" width="4.5" height="9.45" fill="#83c9ff"/>
<rect x="865.96" y="194.01" width="4.5" height="132.27" fill="#ff2b2b"/>
<rect x="865.96" y="184.57" width="4.5" height="9.45" fill="#29b09d"/>
<rect x="865.96" y="146.77" width="4.5" height="37.79" fill="#d5dae5"/>
<rect x="865.96" y="137.33" width="4.5" height="9.45" fill="#0068c9"/>
<rect x="865.96" y="127.88" width="4.5" height="9.45" fill="#29b09d"/>
<rect x="871.76" y="326.29" width="4.5" height="75.58" fill="#0068c9"/>
<rect x="871.76" y="212.91" width="4.5" height="113.38" fill="#ff2b2b"/>
<rect x="871.76" y="203.46" width="4.5" height="9.45" fill="#ffabab"/>
<rect x="871.76" y="175.12" width="4.5" height="28.34" fill="#29b09d"/>
<rect x="871.76" y="118.43" width="4.5" height="56.69" fill="#d5dae5"/>
<rect x="871.76" y="108.98" width="4.5" height="9.45" fill="#0068c9"/>
<rect x="871.76" y="99.53" width="4.5" height="9.45" fill="#29b09d"/>
<rect x="877.57" y="335.73" width="4.5" height="66.14" fill="#0068c9"/>
<rect x="877.57" y="316.84" width="4.5" height="18.90" fill="#83c9ff"/>
<rect x="877.57" y="175.12" width="4.5" height="141.72" fill="#ff2b2b"/>
<rect x="877.57" y="165.67" width="4.5" height="9.45" fill="#ffabab"/>
<rect x="877.57" y="137.33" width="4.5" height="28.34" fill="#29b09d"/>
<rect x="877.57" y="118.43" width="4.5" height="18.90" fill="#7defa1"/>
<rect x="877.57" y="108.98" width="4.5" height="9.45" fill="#ffd16a"/>
<rect x="877.57" y="80.64" width="4.5" height="28.34" fill="#d5dae5"/>
<rect x="877.57" y="71.19" width="4.5" height="9.45" fill="#0068c9"/>
<rect x="877.57" y="61.74" width="4.5" height="9.45" fill="#29b09d"/>
<rect x="883.38" y="335.73" width="4.5" height="66.14" fill="#0068c9"/>
<rect x="883.38" y="212.91" width="4.5" height="122.82" fill="#ff2b2b"/>
<rect x="883.38" y="203.46" width="4.5" height="9.45" fill="#ffabab"/>
<rect x="883.38" y="175.12" width="4.5" height="28.34" fill="#29b09d"/>
<rect x="883.38" y="165.67" width="4.5" height="9.45" fill="#7defa1"/>
<rect x="883.38" y="127.88" width="4.5" height="37.79" fill="#d5dae5"/>
<rect x="883.38" y="118.43" width="4.5" height="9.45" fill="#0068c9"/>
<rect x="883.38" y="108.98" width="4.5" height="9.45" fill="#29b09d"/>
<rect x="889.18" y="335.73" width="4.5" height="66.14" fill="#0068c9"/>
<rect x="889.18" y="326.29" width="4.5" height="9.45" fill="#83c9ff"/>
<rect x="889.18" y="212.91" width="4.5" height="113.38" fill="#ff2b2b"/>
<rect x="889.18" y="203.46" width="4.5" height="9.45" fill="#ffabab"/>
<rect x="889.18" y="165.67" width="4.5" height="37.79" fill="#29b09d"/>
<rect x="889.18" y="156.22" width="4.5" height="9.45" fill="#7defa1"/>
<rect x="889.18" y="146.77" width="4.5" height="9.45" fill="#ff8700"/>
<rect x="889.18" y="118.43" width="4.5" height="28.34" fill="#ffd16a"/>
<rect x="889.18" y="99.53" width="4.5" height="18.90" fill="#d5dae5"/>
<rect x="889.18" y="90.09" width="4.5" height="9.45" fill="#0068c9"/>
<rect x="889.18" y="80.64" width="4.5" height="9.45" fill="#29b09d"/>
<rect x="894.99" y="345.18" width="4.5" height="56.69" fill="#0068c9"/>
<rect x="894.99" y="335.73" width="4.5" height="9.45" fill="#83c9ff"/>
<rect x="894.99" y="231.81" width="4.5" height="103.93" fill="#ff2b2b"/>
<rect x="894.99" y="222.36" width="4.5" height="9.45" fill="#ffabab"/>
<rect x="894.99" y="194.01" width="4.5" height="28.34" fill="#29b09d"/>
<rect x="894.99" y="184.57" width="4.5" height="9.45" fill="#d5dae5"/>
<rect x="894.99" y="175.12" width="4.5" height="9.45" fill="#0068c9"/>
<rect x="900.79" y="373.53" width="4.5" height="28.34" fill="#0068c9"/>
<rect x="900.79" y="354.63" width="4.5" height="18.90" fill="#83c9ff"/>
<rect x="900.79" y="250.70" width="4.5" height="103.93" fill="#ff2b2b"/>
<rect x="900.79" y="222.36" width="4.5" height="28.34" fill="#ffabab"/>
<rect x="900.79" y="175.12" width="4.5" height="47.24" fill="#29b09d"/>
<rect x="900.79" y="165.67" width="4.5" height="9.45" fill="#7defa1"/>
<rect x="900.79" y="146.77" width="4.5" height="18.90" fill="#d5dae5"/>
<rect x="900.79" y="137.33" width="4.5" height="9.45" fill="#0068c9"/>
</g>
<text transform="translate(470.4,421.0) scale(0.98,1)" font-size="7.2" fill="#8d90a0" text-anchor="middle">frame_number</text>
<text transform="translate(10.8,203) rotate(-90) scale(0.98,1)" font-size="7.2" fill="#8d90a0" text-anchor="middle">value</text>
<text transform="translate(923,19.6) scale(1.15,1)" font-size="8.3" fill="#808495">variable</text>
<rect x="933" y="26.50" width="10" height="9.4" fill="#0068c9"/>
<text transform="translate(955,34.80) scale(1.12,1)" font-size="8.2" fill="#31333f">Pedestrians</text>
<rect x="933" y="42.27" width="10" height="9.4" fill="#83c9ff"/>
<text transform="translate(955,50.57) scale(1.12,1)" font-size="8.2" fill="#31333f">Rider</text>
<rect x="933" y="58.04" width="10" height="9.4" fill="#ff2b2b"/>
<text transform="translate(955,66.34) scale(1.12,1)" font-size="8.2" fill="#31333f">Car</text>
<rect x="933" y="73.81" width="10" height="9.4" fill="#ffabab"/>
<text transform="translate(955,82.11) scale(1.12,1)" font-size="8.2" fill="#31333f">Bus</text>
<rect x="933" y="89.58" width="10" height="9.4" fill="#29b09d"/>
<text transform="translate(955,97.88) scale(1.12,1)" font-size="8.2" fill="#31333f">Truck</text>
<rect x="933" y="105.35" width="10" height="9.4" fill="#7defa1"/>
<text transform="translate(955,113.65) scale(1.12,1)" font-size="8.2" fill="#31333f">Motor</text>
<rect x="933" y="121.12" width="10" height="9.4" fill="#ff8700"/>
<text transform="translate(955,129.42) scale(1.12,1)" font-size="8.2" fill="#31333f">Bike</text>
<rect x="933" y="136.89" width="10" height="9.4" fill="#ffd16a"/>
<text transform="translate(955,145.19) scale(1.12,1)" font-size="8.2" fill="#31333f">Traffic light</text>
<rect x="933" y="152.66" width="10" height="9.4" fill="#6d3fc0"/>
<text transform="translate(955,160.96) scale(1.12,1)" font-size="8.2" fill="#31333f">Road works</text>
<rect x="933" y="168.43" width="10" height="9.4" fill="#d5dae5"/>
<text transform="translate(955,176.73) scale(1.12,1)" font-size="8.2" fill="#31333f">Stop sign</text>
<rect x="933" y="184.20" width="10" height="9.4" fill="#0068c9"/>
<text transform="translate(955,192.50) scale(1.12,1)" font-size="8.2" fill="#31333f">Lanes</text>
<rect x="933" y="199.97" width="10" height="9.4" fill="#83c9ff"/>
<text transform="translate(955,208.27) scale(1.12,1)" font-size="8.2" fill="#31333f">Cross Walk</text>
<rect x="933" y="215.74" width="10" height="9.4" fill="#ff2b2b"/>
<text transform="translate(955,224.04) scale(1.12,1)" font-size="8.2" fill="#31333f">Traffic cones</text>
<rect x="933" y="231.51" width="10" height="9.4" fill="#ffabab"/>
<text transform="translate(955,239.81) scale(1.12,1)" font-size="8.2" fill="#31333f">RM Arrows</text>
<rect x="933" y="247.28" width="10" height="9.4" fill="#29b09d"/>
<text transform="translate(955,255.58) scale(1.12,1)" font-size="8.2" fill="#31333f">RM Text</text>
<rect x="933" y="263.05" width="10" height="9.4" fill="#7defa1"/>
<text transform="translate(955,271.35) scale(1.12,1)" font-size="8.2" fill="#31333f">RM Stop Text</text>
</svg></body></html>
